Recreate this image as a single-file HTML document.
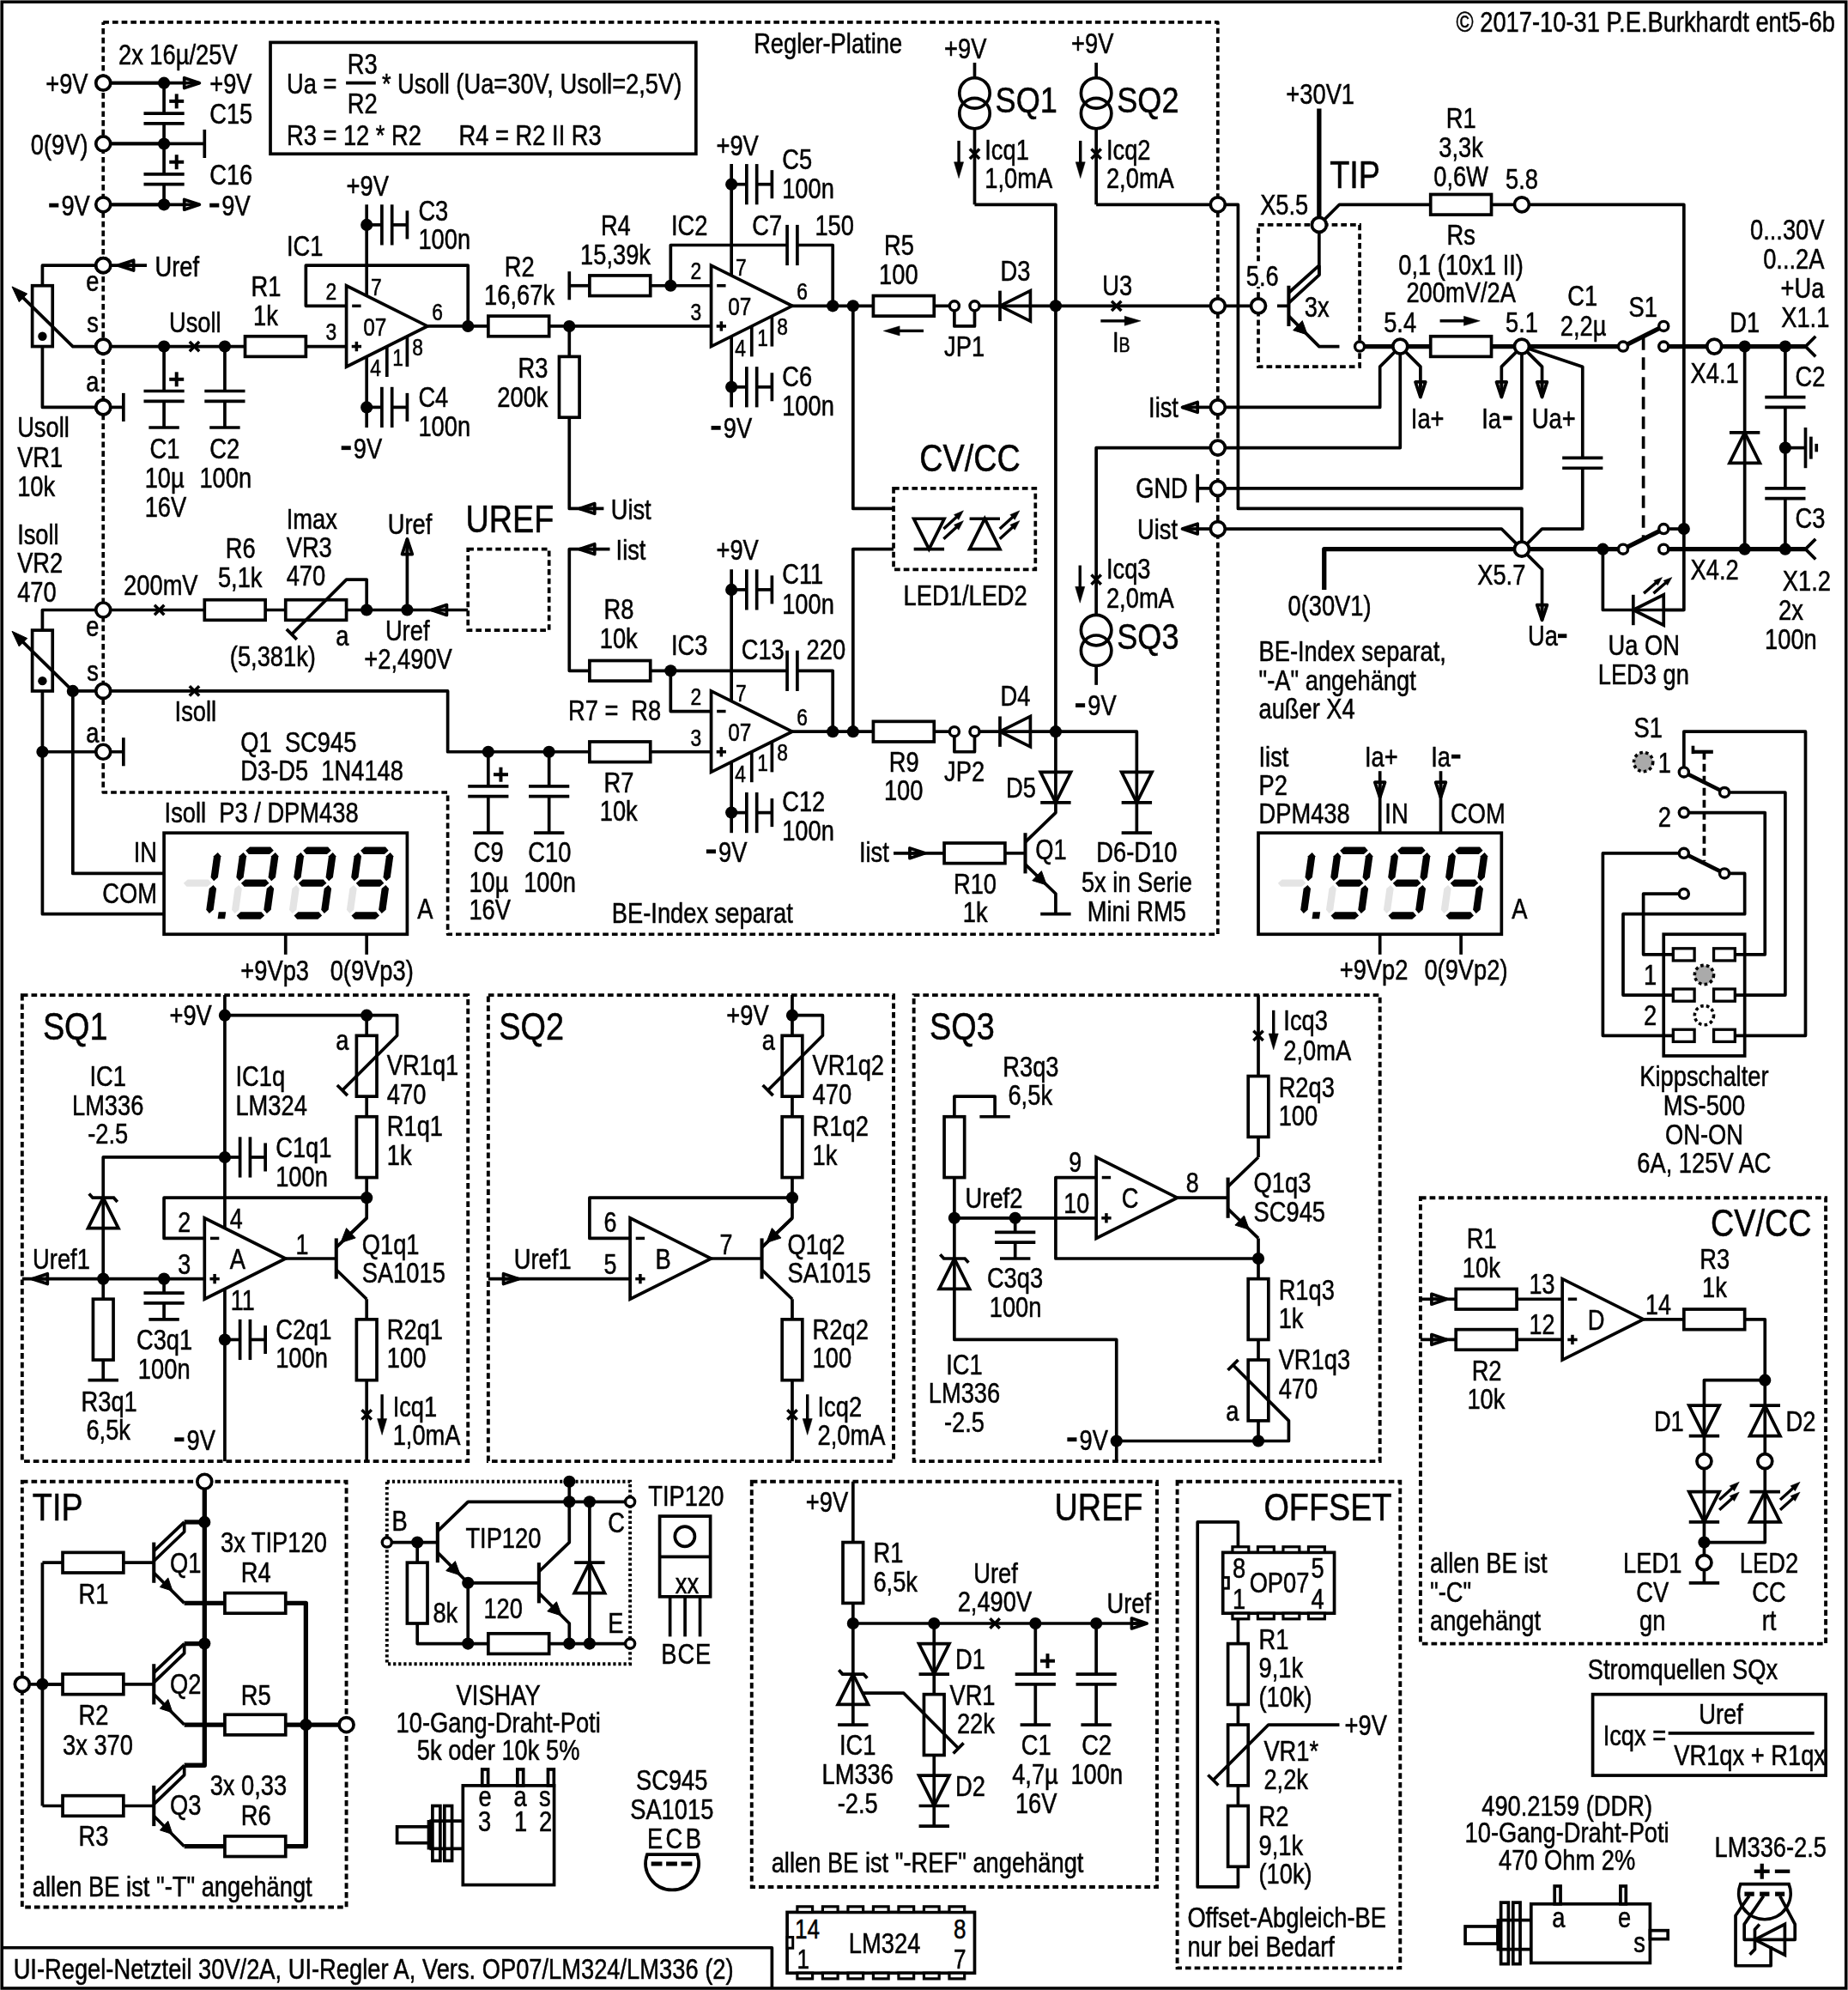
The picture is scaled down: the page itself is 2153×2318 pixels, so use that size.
<!DOCTYPE html>
<html><head><meta charset="utf-8"><title>UI-Regel-Netzteil 30V/2A</title>
<style>html,body{margin:0;padding:0;background:#fff}svg{display:block}text{font-family:"Liberation Sans",sans-serif;fill:#000;stroke:#000;stroke-width:0.55px}</style>
</head><body>
<svg width="2153" height="2318" viewBox="0 0 2153 2318">
<rect x="0" y="0" width="2153" height="2318" fill="#fff"/>
<g style="opacity:0.999">
<polyline points="120.25,25.81 1418.8,25.81 1418.8,1088.26 521.62,1088.26 521.62,922.99 120.25,922.99 120.25,25.81" fill="none" stroke="#000" stroke-width="3.7" stroke-linecap="butt" stroke-linejoin="round" stroke-dasharray="6.7 4.0"/>
<polyline points="120.25,96.64 191.08,96.64" fill="none" stroke="#000" stroke-width="3.7" stroke-linecap="butt" stroke-linejoin="round"/>
<polyline points="120.25,167.47 191.08,167.47" fill="none" stroke="#000" stroke-width="3.7" stroke-linecap="butt" stroke-linejoin="round"/>
<polyline points="120.25,238.3 191.08,238.3" fill="none" stroke="#000" stroke-width="3.7" stroke-linecap="butt" stroke-linejoin="round"/>
<polyline points="120.25,96.64 214.69,96.64" fill="none" stroke="#000" stroke-width="3.7" stroke-linecap="butt" stroke-linejoin="round"/>
<polyline points="120.25,238.3 214.69,238.3" fill="none" stroke="#000" stroke-width="3.7" stroke-linecap="butt" stroke-linejoin="round"/>
<polyline points="120.25,167.47 238.3,167.47" fill="none" stroke="#000" stroke-width="3.7" stroke-linecap="butt" stroke-linejoin="round"/>
<polyline points="238.3,150.94 238.3,184.0" fill="none" stroke="#000" stroke-width="3.7" stroke-linecap="butt" stroke-linejoin="round"/>
<polygon points="232.4,96.64 214.69,90.74 214.69,102.54" fill="none" stroke="#000" stroke-width="3.7" stroke-linejoin="round"/>
<polyline points="214.69,96.64 232.4,96.64" fill="none" stroke="#000" stroke-width="3.7" stroke-linecap="butt" stroke-linejoin="round"/>
<polygon points="232.4,238.3 214.69,232.4 214.69,244.2" fill="none" stroke="#000" stroke-width="3.7" stroke-linejoin="round"/>
<polyline points="214.69,238.3 232.4,238.3" fill="none" stroke="#000" stroke-width="3.7" stroke-linecap="butt" stroke-linejoin="round"/>
<polyline points="191.08,96.64 191.08,132.05" fill="none" stroke="#000" stroke-width="3.7" stroke-linecap="butt" stroke-linejoin="round"/>
<polyline points="191.08,143.86 191.08,202.88" fill="none" stroke="#000" stroke-width="3.7" stroke-linecap="butt" stroke-linejoin="round"/>
<polyline points="191.08,214.69 191.08,238.3" fill="none" stroke="#000" stroke-width="3.7" stroke-linecap="butt" stroke-linejoin="round"/>
<polyline points="167.47,132.05 214.69,132.05" fill="none" stroke="#000" stroke-width="3.7" stroke-linecap="butt" stroke-linejoin="round"/>
<polyline points="167.47,143.86 214.69,143.86" fill="none" stroke="#000" stroke-width="3.7" stroke-linecap="butt" stroke-linejoin="round"/>
<polyline points="167.47,202.88 214.69,202.88" fill="none" stroke="#000" stroke-width="3.7" stroke-linecap="butt" stroke-linejoin="round"/>
<polyline points="167.47,214.69 214.69,214.69" fill="none" stroke="#000" stroke-width="3.7" stroke-linecap="butt" stroke-linejoin="round"/>
<polyline points="197.22,117.89 214.22,117.89" fill="none" stroke="#000" stroke-width="4" stroke-linecap="butt" stroke-linejoin="round"/>
<polyline points="205.72,109.39 205.72,126.39" fill="none" stroke="#000" stroke-width="4" stroke-linecap="butt" stroke-linejoin="round"/>
<polyline points="197.22,188.72 214.22,188.72" fill="none" stroke="#000" stroke-width="4" stroke-linecap="butt" stroke-linejoin="round"/>
<polyline points="205.72,180.22 205.72,197.22" fill="none" stroke="#000" stroke-width="4" stroke-linecap="butt" stroke-linejoin="round"/>
<circle cx="191.08" cy="96.64" r="7.08" fill="#000"/>
<circle cx="191.08" cy="167.47" r="7.08" fill="#000"/>
<circle cx="191.08" cy="238.3" r="7.08" fill="#000"/>
<text xml:space="preserve" transform="translate(102.54,109.26) scale(0.815,1)" font-size="33.5" text-anchor="end">+9V</text>
<text xml:space="preserve" transform="translate(102.54,180.09) scale(0.815,1)" font-size="33.5" text-anchor="end">0(9V)</text>
<polyline points="57.21,239.12 68.31,239.12" fill="none" stroke="#000" stroke-width="4.8" stroke-linecap="butt" stroke-linejoin="round"/>
<text transform="translate(71.38,250.92) scale(0.815,1)" font-size="33.5">9V</text>
<text xml:space="preserve" transform="translate(137.96,75.03) scale(0.815,1)" font-size="33.5">2x 16µ/25V</text>
<text xml:space="preserve" transform="translate(244.2,109.26) scale(0.815,1)" font-size="33.5">+9V</text>
<text xml:space="preserve" transform="translate(244.2,144.21) scale(0.815,1)" font-size="33.5">C15</text>
<text xml:space="preserve" transform="translate(244.2,215.04) scale(0.815,1)" font-size="33.5">C16</text>
<polyline points="244.2,239.12 255.3,239.12" fill="none" stroke="#000" stroke-width="4.8" stroke-linecap="butt" stroke-linejoin="round"/>
<text transform="translate(258.37,250.92) scale(0.815,1)" font-size="33.5">9V</text>
<rect x="315.03" y="49.42" width="495.81" height="129.85" fill="none" stroke="#000" stroke-width="3.7"/>
<text xml:space="preserve" transform="translate(333.92,109.26) scale(0.815,1)" font-size="33.5">Ua =</text>
<text xml:space="preserve" transform="translate(404.75,85.65) scale(0.815,1)" font-size="33.5">R3</text>
<text xml:space="preserve" transform="translate(404.75,132.4) scale(0.815,1)" font-size="33.5">R2</text>
<polyline points="403.1,96.64 437.8,96.64" fill="none" stroke="#000" stroke-width="3.7" stroke-linecap="butt" stroke-linejoin="round"/>
<text xml:space="preserve" transform="translate(444.89,109.26) scale(0.815,1)" font-size="33.5">* Usoll (Ua=30V, Usoll=2,5V)</text>
<text xml:space="preserve" transform="translate(333.92,168.76) scale(0.815,1)" font-size="33.5">R3 = 12 * R2</text>
<text xml:space="preserve" transform="translate(534.61,168.76) scale(0.815,1)" font-size="33.5">R4 = R2 II R3</text>
<polyline points="120.25,309.13 49.42,309.13 49.42,332.74" fill="none" stroke="#000" stroke-width="3.7" stroke-linecap="butt" stroke-linejoin="round"/>
<polyline points="49.42,403.57 49.42,474.4 120.25,474.4" fill="none" stroke="#000" stroke-width="3.7" stroke-linecap="butt" stroke-linejoin="round"/>
<rect x="37.62" y="332.74" width="23.61" height="70.83" fill="#fff" stroke="#000" stroke-width="3.7"/>
<circle cx="49.42" cy="391.76" r="5.19" fill="#000"/>
<polyline points="120.25,403.57 84.83,403.57 19.91,339.82" fill="none" stroke="#000" stroke-width="3.7" stroke-linecap="butt" stroke-linejoin="round"/>
<polygon points="14.0,333.92 31.71,342.18 22.27,351.63" fill="#000" stroke="#000" stroke-width="1" stroke-linejoin="miter"/>
<text xml:space="preserve" transform="translate(100.18,339.46) scale(0.815,1)" font-size="33.5">e</text>
<text xml:space="preserve" transform="translate(101.36,387.15) scale(0.815,1)" font-size="33.5">s</text>
<text xml:space="preserve" transform="translate(100.18,456.33) scale(0.815,1)" font-size="33.5">a</text>
<polyline points="120.25,309.13 171.01,309.13" fill="none" stroke="#000" stroke-width="3.7" stroke-linecap="butt" stroke-linejoin="round"/>
<polygon points="137.96,309.13 155.66,303.23 155.66,315.03" fill="none" stroke="#000" stroke-width="3.7" stroke-linejoin="round"/>
<polyline points="155.66,309.13 137.96,309.13" fill="none" stroke="#000" stroke-width="3.7" stroke-linecap="butt" stroke-linejoin="round"/>
<text xml:space="preserve" transform="translate(180.46,322.23) scale(0.815,1)" font-size="33.5">Uref</text>
<polyline points="120.25,474.4 143.86,474.4" fill="none" stroke="#000" stroke-width="3.7" stroke-linecap="butt" stroke-linejoin="round"/>
<polyline points="143.86,457.87 143.86,490.93" fill="none" stroke="#000" stroke-width="3.7" stroke-linecap="butt" stroke-linejoin="round"/>
<text xml:space="preserve" transform="translate(20.14,509.45) scale(0.815,1)" font-size="33.5">Usoll</text>
<text xml:space="preserve" transform="translate(20.14,543.69) scale(0.815,1)" font-size="33.5">VR1</text>
<text xml:space="preserve" transform="translate(20.14,577.92) scale(0.815,1)" font-size="33.5">10k</text>
<polyline points="120.25,403.57 285.52,403.57" fill="none" stroke="#000" stroke-width="3.7" stroke-linecap="butt" stroke-linejoin="round"/>
<circle cx="191.08" cy="403.57" r="7.08" fill="#000"/>
<circle cx="261.91" cy="403.57" r="7.08" fill="#000"/>
<polyline points="220.83,397.9 232.16,409.24" fill="none" stroke="#000" stroke-width="3.5" stroke-linecap="butt" stroke-linejoin="round"/>
<polyline points="220.83,409.24 232.16,397.9" fill="none" stroke="#000" stroke-width="3.5" stroke-linecap="butt" stroke-linejoin="round"/>
<text xml:space="preserve" transform="translate(196.98,387.15) scale(0.815,1)" font-size="33.5">Usoll</text>
<polyline points="191.08,403.57 191.08,455.51" fill="none" stroke="#000" stroke-width="3.7" stroke-linecap="butt" stroke-linejoin="round"/>
<polyline points="167.47,455.51 214.69,455.51" fill="none" stroke="#000" stroke-width="3.7" stroke-linecap="butt" stroke-linejoin="round"/>
<polyline points="167.47,467.32 214.69,467.32" fill="none" stroke="#000" stroke-width="3.7" stroke-linecap="butt" stroke-linejoin="round"/>
<polyline points="191.08,467.32 191.08,498.01" fill="none" stroke="#000" stroke-width="3.7" stroke-linecap="butt" stroke-linejoin="round"/>
<polyline points="173.37,498.01 208.79,498.01" fill="none" stroke="#000" stroke-width="3.7" stroke-linecap="butt" stroke-linejoin="round"/>
<polyline points="197.22,441.82 214.22,441.82" fill="none" stroke="#000" stroke-width="4" stroke-linecap="butt" stroke-linejoin="round"/>
<polyline points="205.72,433.32 205.72,450.32" fill="none" stroke="#000" stroke-width="4" stroke-linecap="butt" stroke-linejoin="round"/>
<polyline points="261.91,403.57 261.91,455.51" fill="none" stroke="#000" stroke-width="3.7" stroke-linecap="butt" stroke-linejoin="round"/>
<polyline points="238.3,455.51 285.52,455.51" fill="none" stroke="#000" stroke-width="3.7" stroke-linecap="butt" stroke-linejoin="round"/>
<polyline points="238.3,467.32 285.52,467.32" fill="none" stroke="#000" stroke-width="3.7" stroke-linecap="butt" stroke-linejoin="round"/>
<polyline points="261.91,467.32 261.91,498.01" fill="none" stroke="#000" stroke-width="3.7" stroke-linecap="butt" stroke-linejoin="round"/>
<polyline points="244.2,498.01 279.62,498.01" fill="none" stroke="#000" stroke-width="3.7" stroke-linecap="butt" stroke-linejoin="round"/>
<text xml:space="preserve" transform="translate(174.55,533.54) scale(0.815,1)" font-size="33.5">C1</text>
<text xml:space="preserve" transform="translate(168.65,568.48) scale(0.815,1)" font-size="33.5">10µ</text>
<text xml:space="preserve" transform="translate(168.65,601.53) scale(0.815,1)" font-size="33.5">16V</text>
<text xml:space="preserve" transform="translate(244.2,533.54) scale(0.815,1)" font-size="33.5">C2</text>
<text xml:space="preserve" transform="translate(232.4,568.48) scale(0.815,1)" font-size="33.5">100n</text>
<rect x="285.52" y="391.76" width="70.83" height="23.61" fill="#fff" stroke="#000" stroke-width="3.7"/>
<text xml:space="preserve" transform="translate(292.6,345.36) scale(0.815,1)" font-size="33.5">R1</text>
<text xml:space="preserve" transform="translate(294.96,379.13) scale(0.815,1)" font-size="33.5">1k</text>
<polyline points="356.35,403.57 403.57,403.57" fill="none" stroke="#000" stroke-width="3.7" stroke-linecap="butt" stroke-linejoin="round"/>
<polyline points="427.18,238.3 427.18,346.91" fill="none" stroke="#000" stroke-width="3.7" stroke-linecap="butt" stroke-linejoin="round"/>
<circle cx="427.18" cy="261.91" r="7.08" fill="#000"/>
<polyline points="427.18,261.91 444.89,261.91" fill="none" stroke="#000" stroke-width="3.7" stroke-linecap="butt" stroke-linejoin="round"/>
<polyline points="444.89,238.3 444.89,285.52" fill="none" stroke="#000" stroke-width="3.7" stroke-linecap="butt" stroke-linejoin="round"/>
<polyline points="456.69,238.3 456.69,285.52" fill="none" stroke="#000" stroke-width="3.7" stroke-linecap="butt" stroke-linejoin="round"/>
<polyline points="456.69,261.91 474.4,261.91" fill="none" stroke="#000" stroke-width="3.7" stroke-linecap="butt" stroke-linejoin="round"/>
<polyline points="474.4,245.38 474.4,278.44" fill="none" stroke="#000" stroke-width="3.7" stroke-linecap="butt" stroke-linejoin="round"/>
<text xml:space="preserve" transform="translate(403.57,227.79) scale(0.815,1)" font-size="33.5">+9V</text>
<text xml:space="preserve" transform="translate(487.39,256.83) scale(0.815,1)" font-size="33.5">C3</text>
<text xml:space="preserve" transform="translate(487.39,290.35) scale(0.815,1)" font-size="33.5">100n</text>
<polyline points="427.18,413.01 427.18,498.01" fill="none" stroke="#000" stroke-width="3.7" stroke-linecap="butt" stroke-linejoin="round"/>
<circle cx="427.18" cy="474.4" r="7.08" fill="#000"/>
<polyline points="427.18,474.4 444.89,474.4" fill="none" stroke="#000" stroke-width="3.7" stroke-linecap="butt" stroke-linejoin="round"/>
<polyline points="444.89,450.79 444.89,498.01" fill="none" stroke="#000" stroke-width="3.7" stroke-linecap="butt" stroke-linejoin="round"/>
<polyline points="456.69,450.79 456.69,498.01" fill="none" stroke="#000" stroke-width="3.7" stroke-linecap="butt" stroke-linejoin="round"/>
<polyline points="456.69,474.4 474.4,474.4" fill="none" stroke="#000" stroke-width="3.7" stroke-linecap="butt" stroke-linejoin="round"/>
<polyline points="474.4,457.87 474.4,490.93" fill="none" stroke="#000" stroke-width="3.7" stroke-linecap="butt" stroke-linejoin="round"/>
<polyline points="397.67,521.73 408.76,521.73" fill="none" stroke="#000" stroke-width="4.8" stroke-linecap="butt" stroke-linejoin="round"/>
<text transform="translate(411.83,533.54) scale(0.815,1)" font-size="33.5">9V</text>
<text xml:space="preserve" transform="translate(487.39,474.04) scale(0.815,1)" font-size="33.5">C4</text>
<text xml:space="preserve" transform="translate(487.39,508.27) scale(0.815,1)" font-size="33.5">100n</text>
<polygon points="403.57,332.74 403.57,427.18 498.01,379.96" fill="#fff" stroke="#000" stroke-width="3.7" stroke-linejoin="miter"/>
<polyline points="410.18,356.35 420.57,356.35" fill="none" stroke="#000" stroke-width="3.5" stroke-linecap="butt" stroke-linejoin="round"/>
<polyline points="409.71,403.57 421.04,403.57" fill="none" stroke="#000" stroke-width="3.5" stroke-linecap="butt" stroke-linejoin="round"/>
<polyline points="415.38,397.9 415.38,409.24" fill="none" stroke="#000" stroke-width="3.5" stroke-linecap="butt" stroke-linejoin="round"/>
<text xml:space="preserve" transform="translate(379.49,348.91) scale(0.815,1)" font-size="28">2</text>
<text xml:space="preserve" transform="translate(379.49,396.36) scale(0.815,1)" font-size="28">3</text>
<text xml:space="preserve" transform="translate(431.9,344.42) scale(0.815,1)" font-size="28">7</text>
<text xml:space="preserve" transform="translate(503.2,372.52) scale(0.815,1)" font-size="28">6</text>
<text xml:space="preserve" transform="translate(423.17,390.93) scale(0.815,1)" font-size="30">07</text>
<text xml:space="preserve" transform="translate(480.3,413.83) scale(0.815,1)" font-size="28">8</text>
<text xml:space="preserve" transform="translate(457.16,426.11) scale(0.815,1)" font-size="28">1</text>
<text xml:space="preserve" transform="translate(431.19,438.39) scale(0.815,1)" font-size="28">4</text>
<polyline points="450.79,403.57 450.79,438.98" fill="none" stroke="#000" stroke-width="3.7" stroke-linecap="butt" stroke-linejoin="round"/>
<polyline points="474.4,391.76 474.4,427.18" fill="none" stroke="#000" stroke-width="3.7" stroke-linecap="butt" stroke-linejoin="round"/>
<text xml:space="preserve" transform="translate(333.92,298.14) scale(0.815,1)" font-size="33.5">IC1</text>
<polyline points="498.01,379.96 568.84,379.96" fill="none" stroke="#000" stroke-width="3.7" stroke-linecap="butt" stroke-linejoin="round"/>
<circle cx="545.23" cy="379.96" r="7.08" fill="#000"/>
<polyline points="545.23,379.96 545.23,309.13 356.35,309.13 356.35,356.35 403.57,356.35" fill="none" stroke="#000" stroke-width="3.7" stroke-linecap="butt" stroke-linejoin="round"/>
<rect x="568.84" y="368.15" width="70.83" height="23.61" fill="#fff" stroke="#000" stroke-width="3.7"/>
<text xml:space="preserve" transform="translate(587.73,321.75) scale(0.815,1)" font-size="33.5">R2</text>
<text xml:space="preserve" transform="translate(564.12,355.28) scale(0.815,1)" font-size="33.5">16,67k</text>
<polyline points="639.67,379.96 828.55,379.96" fill="none" stroke="#000" stroke-width="3.7" stroke-linecap="butt" stroke-linejoin="round"/>
<circle cx="663.28" cy="379.96" r="7.08" fill="#000"/>
<polyline points="663.28,379.96 663.28,415.38" fill="none" stroke="#000" stroke-width="3.7" stroke-linecap="butt" stroke-linejoin="round"/>
<rect x="651.48" y="415.38" width="23.61" height="70.83" fill="#fff" stroke="#000" stroke-width="3.7"/>
<polyline points="663.28,486.2 663.28,592.45 703.42,592.45" fill="none" stroke="#000" stroke-width="3.7" stroke-linecap="butt" stroke-linejoin="round"/>
<polygon points="675.09,592.45 692.79,586.55 692.79,598.35" fill="none" stroke="#000" stroke-width="3.7" stroke-linejoin="round"/>
<polyline points="692.79,592.45 675.09,592.45" fill="none" stroke="#000" stroke-width="3.7" stroke-linecap="butt" stroke-linejoin="round"/>
<text xml:space="preserve" transform="translate(638.49,440.04) scale(0.815,1)" font-size="33.5" text-anchor="end">R3</text>
<text xml:space="preserve" transform="translate(638.49,473.57) scale(0.815,1)" font-size="33.5" text-anchor="end">200k</text>
<text xml:space="preserve" transform="translate(711.68,605.07) scale(0.815,1)" font-size="33.5">Uist</text>
<polyline points="663.28,316.21 663.28,349.27" fill="none" stroke="#000" stroke-width="3.7" stroke-linecap="butt" stroke-linejoin="round"/>
<polyline points="663.28,332.74 686.89,332.74" fill="none" stroke="#000" stroke-width="3.7" stroke-linecap="butt" stroke-linejoin="round"/>
<rect x="686.89" y="320.94" width="70.83" height="23.61" fill="#fff" stroke="#000" stroke-width="3.7"/>
<polyline points="757.72,332.74 828.55,332.74" fill="none" stroke="#000" stroke-width="3.7" stroke-linecap="butt" stroke-linejoin="round"/>
<circle cx="781.33" cy="332.74" r="7.08" fill="#000"/>
<text xml:space="preserve" transform="translate(699.88,273.83) scale(0.815,1)" font-size="33.5">R4</text>
<text xml:space="preserve" transform="translate(676.03,308.06) scale(0.815,1)" font-size="33.5">15,39k</text>
<text xml:space="preserve" transform="translate(878.13,62.28) scale(0.815,1)" font-size="33.5">Regler-Platine</text>
<polyline points="1135.48,73.03 1135.48,90.74" fill="none" stroke="#000" stroke-width="3.7" stroke-linecap="butt" stroke-linejoin="round"/>
<polyline points="1135.48,149.76 1135.48,238.3" fill="none" stroke="#000" stroke-width="3.7" stroke-linecap="butt" stroke-linejoin="round"/>
<circle cx="1135.48" cy="108.45" r="17.71" fill="none" stroke="#000" stroke-width="3.7"/>
<circle cx="1135.48" cy="132.05" r="17.71" fill="none" stroke="#000" stroke-width="3.7"/>
<text xml:space="preserve" transform="translate(1159.56,130.7) scale(0.86,1)" font-size="42">SQ1</text>
<text xml:space="preserve" transform="translate(1100.07,68.18) scale(0.815,1)" font-size="33.5">+9V</text>
<polyline points="1117.06,163.93 1117.06,192.5" fill="none" stroke="#000" stroke-width="3.4" stroke-linecap="butt" stroke-linejoin="round"/>
<polygon points="1117.06,207.61 1111.52,188.72 1122.61,188.72" fill="#000" stroke="#000" stroke-width="0.5" stroke-linejoin="miter"/>
<polyline points="1129.81,173.61 1141.15,184.94" fill="none" stroke="#000" stroke-width="3.5" stroke-linecap="butt" stroke-linejoin="round"/>
<polyline points="1129.81,184.94 1141.15,173.61" fill="none" stroke="#000" stroke-width="3.5" stroke-linecap="butt" stroke-linejoin="round"/>
<text xml:space="preserve" transform="translate(1147.29,185.76) scale(0.815,1)" font-size="33.5">Icq1</text>
<text xml:space="preserve" transform="translate(1147.29,218.81) scale(0.815,1)" font-size="33.5">1,0mA</text>
<polyline points="1277.14,73.03 1277.14,90.74" fill="none" stroke="#000" stroke-width="3.7" stroke-linecap="butt" stroke-linejoin="round"/>
<polyline points="1277.14,149.76 1277.14,238.3" fill="none" stroke="#000" stroke-width="3.7" stroke-linecap="butt" stroke-linejoin="round"/>
<circle cx="1277.14" cy="108.45" r="17.71" fill="none" stroke="#000" stroke-width="3.7"/>
<circle cx="1277.14" cy="132.05" r="17.71" fill="none" stroke="#000" stroke-width="3.7"/>
<text xml:space="preserve" transform="translate(1301.22,130.7) scale(0.86,1)" font-size="42">SQ2</text>
<text xml:space="preserve" transform="translate(1248.1,62.28) scale(0.815,1)" font-size="33.5">+9V</text>
<polyline points="1258.72,163.93 1258.72,192.5" fill="none" stroke="#000" stroke-width="3.4" stroke-linecap="butt" stroke-linejoin="round"/>
<polygon points="1258.72,207.61 1253.18,188.72 1264.27,188.72" fill="#000" stroke="#000" stroke-width="0.5" stroke-linejoin="miter"/>
<polyline points="1271.47,173.61 1282.81,184.94" fill="none" stroke="#000" stroke-width="3.5" stroke-linecap="butt" stroke-linejoin="round"/>
<polyline points="1271.47,184.94 1282.81,173.61" fill="none" stroke="#000" stroke-width="3.5" stroke-linecap="butt" stroke-linejoin="round"/>
<text xml:space="preserve" transform="translate(1288.94,185.76) scale(0.815,1)" font-size="33.5">Icq2</text>
<text xml:space="preserve" transform="translate(1288.94,218.81) scale(0.815,1)" font-size="33.5">2,0mA</text>
<polyline points="1135.48,238.3 1229.92,238.3 1229.92,852.16" fill="none" stroke="#000" stroke-width="3.7" stroke-linecap="butt" stroke-linejoin="round"/>
<polyline points="1277.14,238.3 1418.8,238.3 1442.41,238.3 1442.41,592.45 1772.95,592.45 1772.95,639.67" fill="none" stroke="#000" stroke-width="3.7" stroke-linecap="butt" stroke-linejoin="round"/>
<polyline points="852.16,191.08 852.16,323.3" fill="none" stroke="#000" stroke-width="3.7" stroke-linecap="butt" stroke-linejoin="round"/>
<circle cx="852.16" cy="214.69" r="7.08" fill="#000"/>
<polyline points="852.16,214.69 869.87,214.69" fill="none" stroke="#000" stroke-width="3.7" stroke-linecap="butt" stroke-linejoin="round"/>
<polyline points="869.87,191.08 869.87,238.3" fill="none" stroke="#000" stroke-width="3.7" stroke-linecap="butt" stroke-linejoin="round"/>
<polyline points="881.67,191.08 881.67,238.3" fill="none" stroke="#000" stroke-width="3.7" stroke-linecap="butt" stroke-linejoin="round"/>
<polyline points="881.67,214.69 899.38,214.69" fill="none" stroke="#000" stroke-width="3.7" stroke-linecap="butt" stroke-linejoin="round"/>
<polyline points="899.38,198.16 899.38,231.22" fill="none" stroke="#000" stroke-width="3.7" stroke-linecap="butt" stroke-linejoin="round"/>
<text xml:space="preserve" transform="translate(834.45,181.04) scale(0.815,1)" font-size="33.5">+9V</text>
<text xml:space="preserve" transform="translate(911.19,196.62) scale(0.815,1)" font-size="33.5">C5</text>
<text xml:space="preserve" transform="translate(911.19,230.62) scale(0.815,1)" font-size="33.5">100n</text>
<polyline points="852.16,389.4 852.16,474.4" fill="none" stroke="#000" stroke-width="3.7" stroke-linecap="butt" stroke-linejoin="round"/>
<circle cx="852.16" cy="450.79" r="7.08" fill="#000"/>
<polyline points="852.16,450.79 869.87,450.79" fill="none" stroke="#000" stroke-width="3.7" stroke-linecap="butt" stroke-linejoin="round"/>
<polyline points="869.87,427.18 869.87,474.4" fill="none" stroke="#000" stroke-width="3.7" stroke-linecap="butt" stroke-linejoin="round"/>
<polyline points="881.67,427.18 881.67,474.4" fill="none" stroke="#000" stroke-width="3.7" stroke-linecap="butt" stroke-linejoin="round"/>
<polyline points="881.67,450.79 899.38,450.79" fill="none" stroke="#000" stroke-width="3.7" stroke-linecap="butt" stroke-linejoin="round"/>
<polyline points="899.38,434.26 899.38,467.32" fill="none" stroke="#000" stroke-width="3.7" stroke-linecap="butt" stroke-linejoin="round"/>
<polyline points="828.55,498.36 839.65,498.36" fill="none" stroke="#000" stroke-width="4.8" stroke-linecap="butt" stroke-linejoin="round"/>
<text transform="translate(842.72,510.16) scale(0.815,1)" font-size="33.5">9V</text>
<text xml:space="preserve" transform="translate(911.19,449.72) scale(0.815,1)" font-size="33.5">C6</text>
<text xml:space="preserve" transform="translate(911.19,483.72) scale(0.815,1)" font-size="33.5">100n</text>
<polygon points="828.55,309.13 828.55,403.57 922.99,356.35" fill="#fff" stroke="#000" stroke-width="3.7" stroke-linejoin="miter"/>
<polyline points="835.16,332.74 845.55,332.74" fill="none" stroke="#000" stroke-width="3.5" stroke-linecap="butt" stroke-linejoin="round"/>
<polyline points="834.69,379.96 846.02,379.96" fill="none" stroke="#000" stroke-width="3.5" stroke-linecap="butt" stroke-linejoin="round"/>
<polyline points="840.36,374.29 840.36,385.63" fill="none" stroke="#000" stroke-width="3.5" stroke-linecap="butt" stroke-linejoin="round"/>
<text xml:space="preserve" transform="translate(804.47,325.3) scale(0.815,1)" font-size="28">2</text>
<text xml:space="preserve" transform="translate(804.47,372.75) scale(0.815,1)" font-size="28">3</text>
<text xml:space="preserve" transform="translate(856.88,320.81) scale(0.815,1)" font-size="28">7</text>
<text xml:space="preserve" transform="translate(928.18,348.91) scale(0.815,1)" font-size="28">6</text>
<text xml:space="preserve" transform="translate(848.15,367.32) scale(0.815,1)" font-size="30">07</text>
<text xml:space="preserve" transform="translate(905.28,390.22) scale(0.815,1)" font-size="28">8</text>
<text xml:space="preserve" transform="translate(882.14,402.5) scale(0.815,1)" font-size="28">1</text>
<text xml:space="preserve" transform="translate(856.17,414.78) scale(0.815,1)" font-size="28">4</text>
<polyline points="875.77,379.96 875.77,415.38" fill="none" stroke="#000" stroke-width="3.7" stroke-linecap="butt" stroke-linejoin="round"/>
<polyline points="899.38,368.15 899.38,403.57" fill="none" stroke="#000" stroke-width="3.7" stroke-linecap="butt" stroke-linejoin="round"/>
<text xml:space="preserve" transform="translate(782.04,273.83) scale(0.815,1)" font-size="33.5">IC2</text>
<polyline points="781.33,332.74 781.33,285.52 917.09,285.52" fill="none" stroke="#000" stroke-width="3.7" stroke-linecap="butt" stroke-linejoin="round"/>
<polyline points="928.89,285.52 970.21,285.52 970.21,356.35" fill="none" stroke="#000" stroke-width="3.7" stroke-linecap="butt" stroke-linejoin="round"/>
<polyline points="917.09,261.91 917.09,309.13" fill="none" stroke="#000" stroke-width="3.7" stroke-linecap="butt" stroke-linejoin="round"/>
<polyline points="928.89,261.91 928.89,309.13" fill="none" stroke="#000" stroke-width="3.7" stroke-linecap="butt" stroke-linejoin="round"/>
<text xml:space="preserve" transform="translate(876.24,273.83) scale(0.815,1)" font-size="33.5">C7</text>
<text xml:space="preserve" transform="translate(949.43,273.83) scale(0.815,1)" font-size="33.5">150</text>
<polyline points="922.99,356.35 1017.43,356.35" fill="none" stroke="#000" stroke-width="3.7" stroke-linecap="butt" stroke-linejoin="round"/>
<circle cx="970.21" cy="356.35" r="7.08" fill="#000"/>
<circle cx="993.82" cy="356.35" r="7.08" fill="#000"/>
<rect x="1017.43" y="344.54" width="70.83" height="23.61" fill="#fff" stroke="#000" stroke-width="3.7"/>
<text xml:space="preserve" transform="translate(1029.94,296.73) scale(0.815,1)" font-size="33.5">R5</text>
<text xml:space="preserve" transform="translate(1024.04,330.96) scale(0.815,1)" font-size="33.5">100</text>
<polyline points="1075.98,385.39 1044.35,385.39" fill="none" stroke="#000" stroke-width="3.4" stroke-linecap="butt" stroke-linejoin="round"/>
<polygon points="1029.24,385.39 1048.12,379.84 1048.12,390.94" fill="#000" stroke="#000" stroke-width="0.5" stroke-linejoin="miter"/>
<polyline points="1088.26,356.35 1111.87,356.35" fill="none" stroke="#000" stroke-width="3.7" stroke-linecap="butt" stroke-linejoin="round"/>
<polyline points="1111.87,356.35 1111.87,379.96 1135.48,379.96 1135.48,356.35" fill="none" stroke="#000" stroke-width="3.7" stroke-linecap="butt" stroke-linejoin="round"/>
<text xml:space="preserve" transform="translate(1100.07,415.49) scale(0.815,1)" font-size="33.5">JP1</text>
<polyline points="1141.62,356.35 1418.8,356.35" fill="none" stroke="#000" stroke-width="3.7" stroke-linecap="butt" stroke-linejoin="round"/>
<polygon points="1164.99,356.35 1200.41,338.64 1200.41,374.06" fill="none" stroke="#000" stroke-width="3.7" stroke-linejoin="miter"/>
<polyline points="1164.99,338.64 1164.99,374.06" fill="none" stroke="#000" stroke-width="3.7" stroke-linecap="butt" stroke-linejoin="round"/>
<text xml:space="preserve" transform="translate(1165.46,327.18) scale(0.815,1)" font-size="33.5">D3</text>
<circle cx="1229.92" cy="356.35" r="7.08" fill="#000"/>
<polyline points="1295.08,350.68 1306.42,362.02" fill="none" stroke="#000" stroke-width="3.5" stroke-linecap="butt" stroke-linejoin="round"/>
<polyline points="1295.08,362.02 1306.42,350.68" fill="none" stroke="#000" stroke-width="3.5" stroke-linecap="butt" stroke-linejoin="round"/>
<text xml:space="preserve" transform="translate(1284.22,343.95) scale(0.815,1)" font-size="33.5">U3</text>
<polyline points="1282.33,373.82 1313.97,373.82" fill="none" stroke="#000" stroke-width="3.4" stroke-linecap="butt" stroke-linejoin="round"/>
<polygon points="1329.08,373.82 1310.19,379.37 1310.19,368.27" fill="#000" stroke="#000" stroke-width="0.5" stroke-linejoin="miter"/>
<text xml:space="preserve" transform="translate(1296.03,409.82) scale(0.815,1)" font-size="33.5">I</text>
<text xml:space="preserve" transform="translate(1303.58,409.82) scale(0.815,1)" font-size="24">B</text>
<polyline points="993.82,356.35 993.82,592.45 1041.04,592.45" fill="none" stroke="#000" stroke-width="3.7" stroke-linecap="butt" stroke-linejoin="round"/>
<polyline points="1041.04,639.67 993.82,639.67 993.82,852.16" fill="none" stroke="#000" stroke-width="3.7" stroke-linecap="butt" stroke-linejoin="round"/>
<rect x="1041.04" y="568.84" width="165.27" height="94.44" fill="none" stroke="#000" stroke-width="3.7" stroke-dasharray="6.7 4.0"/>
<text xml:space="preserve" transform="translate(1071.26,548.6) scale(0.86,1)" font-size="44">CV/CC</text>
<text xml:space="preserve" transform="translate(1052.61,704.94) scale(0.815,1)" font-size="33.5">LED1/LED2</text>
<polygon points="1064.65,604.25 1100.07,604.25 1082.36,639.67" fill="#fff" stroke="#000" stroke-width="3.7" stroke-linejoin="miter"/>
<polyline points="1064.65,639.67 1100.07,639.67" fill="none" stroke="#000" stroke-width="3.7" stroke-linecap="butt" stroke-linejoin="round"/>
<polygon points="1129.58,639.67 1164.99,639.67 1147.29,604.25" fill="#fff" stroke="#000" stroke-width="3.7" stroke-linejoin="miter"/>
<polyline points="1129.58,604.25 1164.99,604.25" fill="none" stroke="#000" stroke-width="3.7" stroke-linecap="butt" stroke-linejoin="round"/>
<polyline points="1099.36,616.06 1115.82,600.94" fill="none" stroke="#000" stroke-width="3.4" stroke-linecap="butt" stroke-linejoin="round"/>
<polygon points="1122.49,594.81 1116.86,605.43 1111.43,599.52" fill="#000" stroke="#000" stroke-width="0.5" stroke-linejoin="miter"/>
<polyline points="1099.36,627.87 1115.82,612.75" fill="none" stroke="#000" stroke-width="3.4" stroke-linecap="butt" stroke-linejoin="round"/>
<polygon points="1122.49,606.62 1116.86,617.24 1111.43,611.33" fill="#000" stroke="#000" stroke-width="0.5" stroke-linejoin="miter"/>
<polyline points="1164.76,616.06 1181.22,600.94" fill="none" stroke="#000" stroke-width="3.4" stroke-linecap="butt" stroke-linejoin="round"/>
<polygon points="1187.89,594.81 1182.26,605.43 1176.83,599.52" fill="#000" stroke="#000" stroke-width="0.5" stroke-linejoin="miter"/>
<polyline points="1164.76,627.87 1181.22,612.75" fill="none" stroke="#000" stroke-width="3.4" stroke-linecap="butt" stroke-linejoin="round"/>
<polygon points="1187.89,606.62 1182.26,617.24 1176.83,611.33" fill="#000" stroke="#000" stroke-width="0.5" stroke-linejoin="miter"/>
<polyline points="1418.8,474.4 1395.19,474.4" fill="none" stroke="#000" stroke-width="3.7" stroke-linecap="butt" stroke-linejoin="round"/>
<polygon points="1377.48,474.4 1395.19,468.5 1395.19,480.3" fill="none" stroke="#000" stroke-width="3.7" stroke-linejoin="round"/>
<polyline points="1395.19,474.4 1377.48,474.4" fill="none" stroke="#000" stroke-width="3.7" stroke-linecap="butt" stroke-linejoin="round"/>
<text xml:space="preserve" transform="translate(1338.05,486.08) scale(0.815,1)" font-size="33.5">Iist</text>
<polyline points="1418.8,521.62 1277.14,521.62 1277.14,717.58" fill="none" stroke="#000" stroke-width="3.7" stroke-linecap="butt" stroke-linejoin="round"/>
<polyline points="1418.8,568.84 1395.19,568.84" fill="none" stroke="#000" stroke-width="3.7" stroke-linecap="butt" stroke-linejoin="round"/>
<polyline points="1395.19,552.31 1395.19,585.37" fill="none" stroke="#000" stroke-width="3.7" stroke-linecap="butt" stroke-linejoin="round"/>
<text xml:space="preserve" transform="translate(1323.18,580.28) scale(0.815,1)" font-size="33.5">GND</text>
<polyline points="1418.8,616.06 1395.19,616.06" fill="none" stroke="#000" stroke-width="3.7" stroke-linecap="butt" stroke-linejoin="round"/>
<polygon points="1377.48,616.06 1395.19,610.16 1395.19,621.96" fill="none" stroke="#000" stroke-width="3.7" stroke-linejoin="round"/>
<polyline points="1395.19,616.06 1377.48,616.06" fill="none" stroke="#000" stroke-width="3.7" stroke-linecap="butt" stroke-linejoin="round"/>
<text xml:space="preserve" transform="translate(1325.07,627.74) scale(0.815,1)" font-size="33.5">Uist</text>
<circle cx="1277.14" cy="734.11" r="17.71" fill="none" stroke="#000" stroke-width="3.7"/>
<circle cx="1277.14" cy="757.72" r="17.71" fill="none" stroke="#000" stroke-width="3.7"/>
<text xml:space="preserve" transform="translate(1301.22,756.37) scale(0.86,1)" font-size="42">SQ3</text>
<polyline points="1277.14,774.25 1277.14,797.86" fill="none" stroke="#000" stroke-width="3.7" stroke-linecap="butt" stroke-linejoin="round"/>
<polyline points="1253.06,821.58 1264.15,821.58" fill="none" stroke="#000" stroke-width="4.8" stroke-linecap="butt" stroke-linejoin="round"/>
<text transform="translate(1267.22,833.38) scale(0.815,1)" font-size="33.5">9V</text>
<polyline points="1258.25,658.56 1258.25,687.13" fill="none" stroke="#000" stroke-width="3.4" stroke-linecap="butt" stroke-linejoin="round"/>
<polygon points="1258.25,702.24 1252.7,683.35 1263.8,683.35" fill="#000" stroke="#000" stroke-width="0.5" stroke-linejoin="miter"/>
<polyline points="1271.47,669.42 1282.81,680.75" fill="none" stroke="#000" stroke-width="3.5" stroke-linecap="butt" stroke-linejoin="round"/>
<polyline points="1271.47,680.75 1282.81,669.42" fill="none" stroke="#000" stroke-width="3.5" stroke-linecap="butt" stroke-linejoin="round"/>
<text xml:space="preserve" transform="translate(1288.94,674.49) scale(0.815,1)" font-size="33.5">Icq3</text>
<text xml:space="preserve" transform="translate(1288.94,708.49) scale(0.815,1)" font-size="33.5">2,0mA</text>
<polyline points="852.16,663.28 852.16,819.11" fill="none" stroke="#000" stroke-width="3.7" stroke-linecap="butt" stroke-linejoin="round"/>
<circle cx="852.16" cy="686.89" r="7.08" fill="#000"/>
<polyline points="852.16,686.89 869.87,686.89" fill="none" stroke="#000" stroke-width="3.7" stroke-linecap="butt" stroke-linejoin="round"/>
<polyline points="869.87,663.28 869.87,710.5" fill="none" stroke="#000" stroke-width="3.7" stroke-linecap="butt" stroke-linejoin="round"/>
<polyline points="881.67,663.28 881.67,710.5" fill="none" stroke="#000" stroke-width="3.7" stroke-linecap="butt" stroke-linejoin="round"/>
<polyline points="881.67,686.89 899.38,686.89" fill="none" stroke="#000" stroke-width="3.7" stroke-linecap="butt" stroke-linejoin="round"/>
<polyline points="899.38,670.36 899.38,703.42" fill="none" stroke="#000" stroke-width="3.7" stroke-linecap="butt" stroke-linejoin="round"/>
<text xml:space="preserve" transform="translate(834.45,652.06) scale(0.815,1)" font-size="33.5">+9V</text>
<text xml:space="preserve" transform="translate(911.19,680.39) scale(0.815,1)" font-size="33.5">C11</text>
<text xml:space="preserve" transform="translate(911.19,714.62) scale(0.815,1)" font-size="33.5">100n</text>
<polyline points="852.16,885.21 852.16,970.21" fill="none" stroke="#000" stroke-width="3.7" stroke-linecap="butt" stroke-linejoin="round"/>
<circle cx="852.16" cy="946.6" r="7.08" fill="#000"/>
<polyline points="852.16,946.6 869.87,946.6" fill="none" stroke="#000" stroke-width="3.7" stroke-linecap="butt" stroke-linejoin="round"/>
<polyline points="869.87,922.99 869.87,970.21" fill="none" stroke="#000" stroke-width="3.7" stroke-linecap="butt" stroke-linejoin="round"/>
<polyline points="881.67,922.99 881.67,970.21" fill="none" stroke="#000" stroke-width="3.7" stroke-linecap="butt" stroke-linejoin="round"/>
<polyline points="881.67,946.6 899.38,946.6" fill="none" stroke="#000" stroke-width="3.7" stroke-linecap="butt" stroke-linejoin="round"/>
<polyline points="899.38,930.07 899.38,963.13" fill="none" stroke="#000" stroke-width="3.7" stroke-linecap="butt" stroke-linejoin="round"/>
<polyline points="822.88,991.81 833.98,991.81" fill="none" stroke="#000" stroke-width="4.8" stroke-linecap="butt" stroke-linejoin="round"/>
<text transform="translate(837.05,1003.61) scale(0.815,1)" font-size="33.5">9V</text>
<text xml:space="preserve" transform="translate(911.19,945.29) scale(0.815,1)" font-size="33.5">C12</text>
<text xml:space="preserve" transform="translate(911.19,979.06) scale(0.815,1)" font-size="33.5">100n</text>
<polygon points="828.55,804.94 828.55,899.38 922.99,852.16" fill="#fff" stroke="#000" stroke-width="3.7" stroke-linejoin="miter"/>
<polyline points="835.16,828.55 845.55,828.55" fill="none" stroke="#000" stroke-width="3.5" stroke-linecap="butt" stroke-linejoin="round"/>
<polyline points="834.69,875.77 846.02,875.77" fill="none" stroke="#000" stroke-width="3.5" stroke-linecap="butt" stroke-linejoin="round"/>
<polyline points="840.36,870.1 840.36,881.44" fill="none" stroke="#000" stroke-width="3.5" stroke-linecap="butt" stroke-linejoin="round"/>
<text xml:space="preserve" transform="translate(804.47,821.11) scale(0.815,1)" font-size="28">2</text>
<text xml:space="preserve" transform="translate(804.47,868.56) scale(0.815,1)" font-size="28">3</text>
<text xml:space="preserve" transform="translate(856.88,816.62) scale(0.815,1)" font-size="28">7</text>
<text xml:space="preserve" transform="translate(928.18,844.72) scale(0.815,1)" font-size="28">6</text>
<text xml:space="preserve" transform="translate(848.15,863.13) scale(0.815,1)" font-size="30">07</text>
<text xml:space="preserve" transform="translate(905.28,886.03) scale(0.815,1)" font-size="28">8</text>
<text xml:space="preserve" transform="translate(882.14,898.31) scale(0.815,1)" font-size="28">1</text>
<text xml:space="preserve" transform="translate(856.17,910.59) scale(0.815,1)" font-size="28">4</text>
<polyline points="875.77,875.77 875.77,911.19" fill="none" stroke="#000" stroke-width="3.7" stroke-linecap="butt" stroke-linejoin="round"/>
<polyline points="899.38,863.97 899.38,899.38" fill="none" stroke="#000" stroke-width="3.7" stroke-linecap="butt" stroke-linejoin="round"/>
<text xml:space="preserve" transform="translate(782.04,763.26) scale(0.815,1)" font-size="33.5">IC3</text>
<polyline points="663.28,592.45 663.28,592.45" fill="none" stroke="#000" stroke-width="3.7" stroke-linecap="butt" stroke-linejoin="round"/>
<polyline points="710.5,639.67 663.28,639.67 663.28,781.33 686.89,781.33" fill="none" stroke="#000" stroke-width="3.7" stroke-linecap="butt" stroke-linejoin="round"/>
<polygon points="675.09,639.67 692.79,633.77 692.79,645.57" fill="none" stroke="#000" stroke-width="3.7" stroke-linejoin="round"/>
<polyline points="692.79,639.67 675.09,639.67" fill="none" stroke="#000" stroke-width="3.7" stroke-linecap="butt" stroke-linejoin="round"/>
<text xml:space="preserve" transform="translate(717.58,652.29) scale(0.815,1)" font-size="33.5">Iist</text>
<rect x="686.89" y="769.52" width="70.83" height="23.61" fill="#fff" stroke="#000" stroke-width="3.7"/>
<polyline points="757.72,781.33 917.09,781.33" fill="none" stroke="#000" stroke-width="3.7" stroke-linecap="butt" stroke-linejoin="round"/>
<polyline points="928.89,781.33 970.21,781.33 970.21,852.16" fill="none" stroke="#000" stroke-width="3.7" stroke-linecap="butt" stroke-linejoin="round"/>
<polyline points="917.09,757.72 917.09,804.94" fill="none" stroke="#000" stroke-width="3.7" stroke-linecap="butt" stroke-linejoin="round"/>
<polyline points="928.89,757.72 928.89,804.94" fill="none" stroke="#000" stroke-width="3.7" stroke-linecap="butt" stroke-linejoin="round"/>
<circle cx="781.33" cy="781.33" r="7.08" fill="#000"/>
<polyline points="781.33,781.33 781.33,828.55 828.55,828.55" fill="none" stroke="#000" stroke-width="3.7" stroke-linecap="butt" stroke-linejoin="round"/>
<text xml:space="preserve" transform="translate(703.42,721.24) scale(0.815,1)" font-size="33.5">R8</text>
<text xml:space="preserve" transform="translate(698.7,755.0) scale(0.815,1)" font-size="33.5">10k</text>
<text xml:space="preserve" transform="translate(863.73,767.98) scale(0.815,1)" font-size="33.5">C13</text>
<text xml:space="preserve" transform="translate(939.52,767.98) scale(0.815,1)" font-size="33.5">220</text>
<text xml:space="preserve" transform="translate(662.1,838.81) scale(0.815,1)" font-size="33.5">R7 =</text>
<text xml:space="preserve" transform="translate(735.29,838.81) scale(0.815,1)" font-size="33.5">R8</text>
<rect x="686.89" y="863.97" width="70.83" height="23.61" fill="#fff" stroke="#000" stroke-width="3.7"/>
<polyline points="757.72,875.77 828.55,875.77" fill="none" stroke="#000" stroke-width="3.7" stroke-linecap="butt" stroke-linejoin="round"/>
<text xml:space="preserve" transform="translate(703.42,922.63) scale(0.815,1)" font-size="33.5">R7</text>
<text xml:space="preserve" transform="translate(698.7,955.68) scale(0.815,1)" font-size="33.5">10k</text>
<polyline points="922.99,852.16 1017.43,852.16" fill="none" stroke="#000" stroke-width="3.7" stroke-linecap="butt" stroke-linejoin="round"/>
<circle cx="970.21" cy="852.16" r="7.08" fill="#000"/>
<circle cx="993.82" cy="852.16" r="7.08" fill="#000"/>
<rect x="1017.43" y="840.36" width="70.83" height="23.61" fill="#fff" stroke="#000" stroke-width="3.7"/>
<text xml:space="preserve" transform="translate(1035.85,898.55) scale(0.815,1)" font-size="33.5">R9</text>
<text xml:space="preserve" transform="translate(1029.94,932.31) scale(0.815,1)" font-size="33.5">100</text>
<polyline points="1088.26,852.16 1111.87,852.16" fill="none" stroke="#000" stroke-width="3.7" stroke-linecap="butt" stroke-linejoin="round"/>
<polyline points="1111.87,852.16 1111.87,875.77 1135.48,875.77 1135.48,852.16" fill="none" stroke="#000" stroke-width="3.7" stroke-linecap="butt" stroke-linejoin="round"/>
<text xml:space="preserve" transform="translate(1100.07,910.12) scale(0.815,1)" font-size="33.5">JP2</text>
<polyline points="1141.62,852.16 1229.92,852.16" fill="none" stroke="#000" stroke-width="3.7" stroke-linecap="butt" stroke-linejoin="round"/>
<polygon points="1164.99,852.16 1200.41,834.45 1200.41,869.87" fill="none" stroke="#000" stroke-width="3.7" stroke-linejoin="miter"/>
<polyline points="1164.99,834.45 1164.99,869.87" fill="none" stroke="#000" stroke-width="3.7" stroke-linecap="butt" stroke-linejoin="round"/>
<text xml:space="preserve" transform="translate(1165.46,821.81) scale(0.815,1)" font-size="33.5">D4</text>
<circle cx="1229.92" cy="852.16" r="7.08" fill="#000"/>
<polyline points="1229.92,852.16 1229.92,946.6 1194.51,980.83" fill="none" stroke="#000" stroke-width="3.7" stroke-linecap="butt" stroke-linejoin="round"/>
<polygon points="1229.92,934.8 1212.21,899.38 1247.63,899.38" fill="none" stroke="#000" stroke-width="3.7" stroke-linejoin="miter"/>
<polyline points="1212.21,934.8 1247.63,934.8" fill="none" stroke="#000" stroke-width="3.7" stroke-linecap="butt" stroke-linejoin="round"/>
<text xml:space="preserve" transform="translate(1172.08,928.53) scale(0.815,1)" font-size="33.5">D5</text>
<polyline points="1194.51,970.21 1194.51,1017.43" fill="none" stroke="#000" stroke-width="4.1" stroke-linecap="butt" stroke-linejoin="round"/>
<polyline points="1170.89,993.82 1194.51,993.82" fill="none" stroke="#000" stroke-width="3.7" stroke-linecap="butt" stroke-linejoin="round"/>
<polyline points="1194.51,1006.81 1229.92,1041.04 1229.92,1064.65" fill="none" stroke="#000" stroke-width="3.7" stroke-linecap="butt" stroke-linejoin="round"/>
<polyline points="1212.21,1064.65 1247.63,1064.65" fill="none" stroke="#000" stroke-width="3.7" stroke-linecap="butt" stroke-linejoin="round"/>
<polygon points="1219.3,1030.89 1202.77,1025.69 1213.39,1014.6" fill="#000" stroke="#000" stroke-width="1" stroke-linejoin="miter"/>
<text xml:space="preserve" transform="translate(1206.31,1000.54) scale(0.815,1)" font-size="33.5">Q1</text>
<rect x="1100.07" y="982.01" width="70.83" height="23.61" fill="#fff" stroke="#000" stroke-width="3.7"/>
<text xml:space="preserve" transform="translate(1110.93,1040.68) scale(0.815,1)" font-size="33.5">R10</text>
<text xml:space="preserve" transform="translate(1121.79,1074.44) scale(0.815,1)" font-size="33.5">1k</text>
<polyline points="1041.04,993.82 1100.07,993.82" fill="none" stroke="#000" stroke-width="3.7" stroke-linecap="butt" stroke-linejoin="round"/>
<polygon points="1077.64,993.82 1059.93,987.92 1059.93,999.72" fill="none" stroke="#000" stroke-width="3.7" stroke-linejoin="round"/>
<polyline points="1059.93,993.82 1077.64,993.82" fill="none" stroke="#000" stroke-width="3.7" stroke-linecap="butt" stroke-linejoin="round"/>
<text xml:space="preserve" transform="translate(1000.9,1004.32) scale(0.815,1)" font-size="33.5">Iist</text>
<polyline points="1229.92,852.16 1324.36,852.16 1324.36,970.21" fill="none" stroke="#000" stroke-width="3.7" stroke-linecap="butt" stroke-linejoin="round"/>
<polygon points="1324.36,934.8 1306.65,899.38 1342.07,899.38" fill="none" stroke="#000" stroke-width="3.7" stroke-linejoin="miter"/>
<polyline points="1306.65,934.8 1342.07,934.8" fill="none" stroke="#000" stroke-width="3.7" stroke-linecap="butt" stroke-linejoin="round"/>
<polyline points="1306.65,970.21 1342.07,970.21" fill="none" stroke="#000" stroke-width="3.7" stroke-linecap="butt" stroke-linejoin="round"/>
<text xml:space="preserve" transform="translate(1324.36,1004.32) scale(0.815,1)" font-size="33.5" text-anchor="middle">D6-D10</text>
<text xml:space="preserve" transform="translate(1324.36,1038.55) scale(0.815,1)" font-size="33.5" text-anchor="middle">5x in Serie</text>
<text xml:space="preserve" transform="translate(1324.36,1072.55) scale(0.815,1)" font-size="33.5" text-anchor="middle">Mini RM5</text>
<text xml:space="preserve" transform="translate(712.86,1074.91) scale(0.815,1)" font-size="33.5">BE-Index separat</text>
<text xml:space="preserve" transform="translate(2137.96,37.02) scale(0.815,1)" font-size="33.5" text-anchor="end">© 2017-10-31 P.E.Burkhardt ent5-6b</text>
<text xml:space="preserve" transform="translate(1498.37,120.83) scale(0.815,1)" font-size="33.5">+30V1</text>
<polyline points="1536.85,126.62 1536.85,261.91" fill="none" stroke="#000" stroke-width="5.3" stroke-linecap="butt" stroke-linejoin="round"/>
<text xml:space="preserve" transform="translate(1549.13,219.48) scale(0.86,1)" font-size="44">TIP</text>
<text xml:space="preserve" transform="translate(1468.14,250.45) scale(0.815,1)" font-size="33.5">X5.5</text>
<polyline points="1536.85,261.91 1560.46,238.3 1666.7,238.3" fill="none" stroke="#000" stroke-width="3.7" stroke-linecap="butt" stroke-linejoin="round"/>
<rect x="1666.7" y="226.49" width="70.83" height="23.61" fill="#fff" stroke="#000" stroke-width="3.7"/>
<polyline points="1737.54,238.3 1961.83,238.3 1961.83,710.5 1938.22,710.5" fill="none" stroke="#000" stroke-width="3.7" stroke-linecap="butt" stroke-linejoin="round"/>
<text xml:space="preserve" transform="translate(1702.12,149.17) scale(0.815,1)" font-size="33.5" text-anchor="middle">R1</text>
<text xml:space="preserve" transform="translate(1702.12,183.16) scale(0.815,1)" font-size="33.5" text-anchor="middle">3,3k</text>
<text xml:space="preserve" transform="translate(1702.12,216.93) scale(0.815,1)" font-size="33.5" text-anchor="middle">0,6W</text>
<text xml:space="preserve" transform="translate(1754.06,220.0) scale(0.815,1)" font-size="33.5">5.8</text>
<rect x="1466.02" y="261.91" width="118.05" height="165.27" fill="none" stroke="#000" stroke-width="3.7" stroke-dasharray="6.7 4.0"/>
<polyline points="1418.8,356.35 1466.02,356.35" fill="none" stroke="#000" stroke-width="3.7" stroke-linecap="butt" stroke-linejoin="round"/>
<rect x="1449.49" y="306.77" width="44.858999999999995" height="27.1515" fill="#fff"/>
<text xml:space="preserve" transform="translate(1451.85,333.09) scale(0.815,1)" font-size="33.5">5.6</text>
<polyline points="1487.98,356.35 1501.43,356.35" fill="none" stroke="#000" stroke-width="3.7" stroke-linecap="butt" stroke-linejoin="round"/>
<polyline points="1501.43,332.74 1501.43,379.96" fill="none" stroke="#000" stroke-width="4.1" stroke-linecap="butt" stroke-linejoin="round"/>
<polyline points="1536.85,261.91 1536.85,320.46" fill="none" stroke="#000" stroke-width="3.7" stroke-linecap="butt" stroke-linejoin="round"/>
<polyline points="1501.43,341.0 1536.85,309.13" fill="none" stroke="#000" stroke-width="3.7" stroke-linecap="butt" stroke-linejoin="round"/>
<polyline points="1501.43,352.81 1536.85,320.46 1536.85,309.13" fill="none" stroke="#000" stroke-width="3.7" stroke-linecap="butt" stroke-linejoin="round"/>
<polyline points="1501.43,368.15 1536.85,403.57 1560.46,403.57" fill="none" stroke="#000" stroke-width="3.7" stroke-linecap="butt" stroke-linejoin="round"/>
<polygon points="1523.16,389.88 1506.63,384.68 1517.25,373.59" fill="#000" stroke="#000" stroke-width="1" stroke-linejoin="miter"/>
<text xml:space="preserve" transform="translate(1519.85,368.74) scale(0.815,1)" font-size="33.5">3x</text>
<polyline points="1584.07,403.57 1666.7,403.57" fill="none" stroke="#000" stroke-width="5.3" stroke-linecap="butt" stroke-linejoin="round"/>
<rect x="1666.7" y="391.76" width="70.83" height="23.61" fill="#fff" stroke="#000" stroke-width="3.7"/>
<polyline points="1737.54,403.57 1891.0,403.57" fill="none" stroke="#000" stroke-width="5.3" stroke-linecap="butt" stroke-linejoin="round"/>
<text xml:space="preserve" transform="translate(1612.17,387.39) scale(0.815,1)" font-size="33.5">5.4</text>
<text xml:space="preserve" transform="translate(1754.06,387.39) scale(0.815,1)" font-size="33.5">5.1</text>
<text xml:space="preserve" transform="translate(1702.12,285.4) scale(0.815,1)" font-size="33.5" text-anchor="middle">Rs</text>
<text xml:space="preserve" transform="translate(1702.12,320.1) scale(0.815,1)" font-size="33.5" text-anchor="middle">0,1 (10x1 II)</text>
<text xml:space="preserve" transform="translate(1702.12,352.45) scale(0.815,1)" font-size="33.5" text-anchor="middle">200mV/2A</text>
<polyline points="1677.57,373.82 1709.2,373.82" fill="none" stroke="#000" stroke-width="3.4" stroke-linecap="butt" stroke-linejoin="round"/>
<polygon points="1724.31,373.82 1705.43,379.37 1705.43,368.27" fill="#000" stroke="#000" stroke-width="0.5" stroke-linejoin="miter"/>
<text xml:space="preserve" transform="translate(1826.31,356.46) scale(0.815,1)" font-size="33.5">C1</text>
<text xml:space="preserve" transform="translate(1817.81,391.4) scale(0.815,1)" font-size="33.5">2,2µ</text>
<text xml:space="preserve" transform="translate(1897.61,368.74) scale(0.815,1)" font-size="33.5">S1</text>
<polyline points="1891.0,403.57 1938.22,379.96" fill="none" stroke="#000" stroke-width="5.3" stroke-linecap="butt" stroke-linejoin="round"/>
<polyline points="1914.61,393.18 1914.61,627.87" fill="none" stroke="#000" stroke-width="3.7" stroke-linecap="butt" stroke-linejoin="round" stroke-dasharray="14.5 8.5"/>
<polyline points="1938.22,403.57 2103.49,403.57" fill="none" stroke="#000" stroke-width="5.3" stroke-linecap="butt" stroke-linejoin="round"/>
<polyline points="2115.29,391.76 2103.49,403.57 2115.29,415.38" fill="none" stroke="#000" stroke-width="3.7" stroke-linecap="butt" stroke-linejoin="round"/>
<polyline points="1631.29,403.57 1607.68,427.18 1607.68,474.4 1418.8,474.4" fill="none" stroke="#000" stroke-width="3.7" stroke-linecap="butt" stroke-linejoin="round"/>
<polyline points="1631.29,403.57 1631.29,521.62 1418.8,521.62" fill="none" stroke="#000" stroke-width="3.7" stroke-linecap="butt" stroke-linejoin="round"/>
<polyline points="1631.29,403.57 1654.9,427.18 1654.9,450.79" fill="none" stroke="#000" stroke-width="3.7" stroke-linecap="butt" stroke-linejoin="round"/>
<polygon points="1654.9,462.59 1649.0,444.89 1660.8,444.89" fill="none" stroke="#000" stroke-width="3.7" stroke-linejoin="round"/>
<polyline points="1654.9,444.89 1654.9,462.59" fill="none" stroke="#000" stroke-width="3.7" stroke-linecap="butt" stroke-linejoin="round"/>
<text xml:space="preserve" transform="translate(1643.8,498.59) scale(0.815,1)" font-size="33.5">Ia+</text>
<polyline points="1772.95,403.57 1749.34,427.18 1749.34,450.79" fill="none" stroke="#000" stroke-width="3.7" stroke-linecap="butt" stroke-linejoin="round"/>
<polygon points="1749.34,462.59 1743.44,444.89 1755.24,444.89" fill="none" stroke="#000" stroke-width="3.7" stroke-linejoin="round"/>
<polyline points="1749.34,444.89 1749.34,462.59" fill="none" stroke="#000" stroke-width="3.7" stroke-linecap="butt" stroke-linejoin="round"/>
<text xml:space="preserve" transform="translate(1726.2,498.59) scale(0.815,1)" font-size="33.5">Ia</text>
<polyline points="1751.23,486.91 1761.62,486.91" fill="none" stroke="#000" stroke-width="4.8" stroke-linecap="butt" stroke-linejoin="round"/>
<polyline points="1772.95,403.57 1772.95,568.84 1418.8,568.84" fill="none" stroke="#000" stroke-width="3.7" stroke-linecap="butt" stroke-linejoin="round"/>
<polyline points="1772.95,403.57 1796.56,427.18 1796.56,450.79" fill="none" stroke="#000" stroke-width="3.7" stroke-linecap="butt" stroke-linejoin="round"/>
<polygon points="1796.56,462.59 1790.66,444.89 1802.46,444.89" fill="none" stroke="#000" stroke-width="3.7" stroke-linejoin="round"/>
<polyline points="1796.56,444.89 1796.56,462.59" fill="none" stroke="#000" stroke-width="3.7" stroke-linecap="butt" stroke-linejoin="round"/>
<text xml:space="preserve" transform="translate(1784.76,498.59) scale(0.815,1)" font-size="33.5">Ua+</text>
<polyline points="1772.95,403.57 1843.78,427.18 1843.78,533.43" fill="none" stroke="#000" stroke-width="3.7" stroke-linecap="butt" stroke-linejoin="round"/>
<polyline points="1820.17,533.43 1867.39,533.43" fill="none" stroke="#000" stroke-width="3.7" stroke-linecap="butt" stroke-linejoin="round"/>
<polyline points="1820.17,545.23 1867.39,545.23" fill="none" stroke="#000" stroke-width="3.7" stroke-linecap="butt" stroke-linejoin="round"/>
<polyline points="1843.78,545.23 1843.78,616.06 1796.56,616.06 1772.95,639.67" fill="none" stroke="#000" stroke-width="3.7" stroke-linecap="butt" stroke-linejoin="round"/>
<text xml:space="preserve" transform="translate(2125.45,279.26) scale(0.815,1)" font-size="33.5" text-anchor="end">0...30V</text>
<text xml:space="preserve" transform="translate(2125.45,313.49) scale(0.815,1)" font-size="33.5" text-anchor="end">0...2A</text>
<text xml:space="preserve" transform="translate(2125.45,346.54) scale(0.815,1)" font-size="33.5" text-anchor="end">+Ua</text>
<text xml:space="preserve" transform="translate(2131.35,380.54) scale(0.815,1)" font-size="33.5" text-anchor="end">X1.1</text>
<text xml:space="preserve" transform="translate(2015.19,386.68) scale(0.815,1)" font-size="33.5">D1</text>
<text xml:space="preserve" transform="translate(1969.62,445.94) scale(0.815,1)" font-size="33.5">X4.1</text>
<text xml:space="preserve" transform="translate(2091.45,449.72) scale(0.815,1)" font-size="33.5">C2</text>
<polyline points="2032.66,403.57 2032.66,639.67" fill="none" stroke="#000" stroke-width="3.7" stroke-linecap="butt" stroke-linejoin="round"/>
<polygon points="2032.66,503.91 2014.95,539.33 2050.37,539.33" fill="none" stroke="#000" stroke-width="3.7" stroke-linejoin="miter"/>
<polyline points="2014.95,503.91 2050.37,503.91" fill="none" stroke="#000" stroke-width="3.7" stroke-linecap="butt" stroke-linejoin="round"/>
<polyline points="2079.88,403.57 2079.88,462.59" fill="none" stroke="#000" stroke-width="3.7" stroke-linecap="butt" stroke-linejoin="round"/>
<polyline points="2056.27,462.59 2103.49,462.59" fill="none" stroke="#000" stroke-width="3.7" stroke-linecap="butt" stroke-linejoin="round"/>
<polyline points="2056.27,474.4 2103.49,474.4" fill="none" stroke="#000" stroke-width="3.7" stroke-linecap="butt" stroke-linejoin="round"/>
<polyline points="2079.88,474.4 2079.88,568.84" fill="none" stroke="#000" stroke-width="3.7" stroke-linecap="butt" stroke-linejoin="round"/>
<polyline points="2056.27,568.84 2103.49,568.84" fill="none" stroke="#000" stroke-width="3.7" stroke-linecap="butt" stroke-linejoin="round"/>
<polyline points="2056.27,580.64 2103.49,580.64" fill="none" stroke="#000" stroke-width="3.7" stroke-linecap="butt" stroke-linejoin="round"/>
<polyline points="2079.88,580.64 2079.88,639.67" fill="none" stroke="#000" stroke-width="3.7" stroke-linecap="butt" stroke-linejoin="round"/>
<polyline points="2079.88,521.62 2103.49,521.62" fill="none" stroke="#000" stroke-width="3.7" stroke-linecap="butt" stroke-linejoin="round"/>
<polyline points="2103.49,498.01 2103.49,545.23" fill="none" stroke="#000" stroke-width="3.7" stroke-linecap="butt" stroke-linejoin="round"/>
<polyline points="2109.86,508.63 2109.86,534.61" fill="none" stroke="#000" stroke-width="3.7" stroke-linecap="butt" stroke-linejoin="round"/>
<polyline points="2116.24,516.9 2116.24,526.34" fill="none" stroke="#000" stroke-width="3.7" stroke-linecap="butt" stroke-linejoin="round"/>
<circle cx="2032.66" cy="403.57" r="7.08" fill="#000"/>
<circle cx="2079.88" cy="403.57" r="7.08" fill="#000"/>
<circle cx="2079.88" cy="521.62" r="7.08" fill="#000"/>
<circle cx="2032.66" cy="639.67" r="7.08" fill="#000"/>
<circle cx="2079.88" cy="639.67" r="7.08" fill="#000"/>
<polyline points="1542.75,686.89 1542.75,639.67 1891.0,639.67" fill="none" stroke="#000" stroke-width="5.3" stroke-linecap="butt" stroke-linejoin="round"/>
<polyline points="1938.22,639.67 2103.49,639.67" fill="none" stroke="#000" stroke-width="5.3" stroke-linecap="butt" stroke-linejoin="round"/>
<polyline points="2115.29,627.87 2103.49,639.67 2115.29,651.48" fill="none" stroke="#000" stroke-width="3.7" stroke-linecap="butt" stroke-linejoin="round"/>
<polyline points="1891.0,639.67 1938.22,616.06" fill="none" stroke="#000" stroke-width="5.3" stroke-linecap="butt" stroke-linejoin="round"/>
<polyline points="1938.22,616.06 1961.83,616.06" fill="none" stroke="#000" stroke-width="3.7" stroke-linecap="butt" stroke-linejoin="round"/>
<circle cx="1961.83" cy="616.06" r="7.08" fill="#000"/>
<polyline points="1418.8,616.06 1749.34,616.06 1772.95,639.67" fill="none" stroke="#000" stroke-width="3.7" stroke-linecap="butt" stroke-linejoin="round"/>
<polyline points="1772.95,639.67 1796.56,663.28 1796.56,710.5" fill="none" stroke="#000" stroke-width="3.7" stroke-linecap="butt" stroke-linejoin="round"/>
<polygon points="1796.56,722.31 1790.66,704.6 1802.46,704.6" fill="none" stroke="#000" stroke-width="3.7" stroke-linejoin="round"/>
<polyline points="1796.56,704.6 1796.56,722.31" fill="none" stroke="#000" stroke-width="3.7" stroke-linecap="butt" stroke-linejoin="round"/>
<text xml:space="preserve" transform="translate(1780.03,752.16) scale(0.815,1)" font-size="33.5">Ua</text>
<polyline points="1814.98,740.72 1825.36,740.72" fill="none" stroke="#000" stroke-width="4.8" stroke-linecap="butt" stroke-linejoin="round"/>
<text xml:space="preserve" transform="translate(1721.24,681.33) scale(0.815,1)" font-size="33.5">X5.7</text>
<text xml:space="preserve" transform="translate(1500.49,716.51) scale(0.815,1)" font-size="33.5">0(30V1)</text>
<circle cx="1867.39" cy="639.67" r="7.08" fill="#000"/>
<polyline points="1867.39,639.67 1867.39,710.5 1961.83,710.5" fill="none" stroke="#000" stroke-width="3.7" stroke-linecap="butt" stroke-linejoin="round"/>
<polygon points="1902.81,710.5 1938.22,692.79 1938.22,728.21" fill="none" stroke="#000" stroke-width="3.7" stroke-linejoin="miter"/>
<polyline points="1902.81,692.79 1902.81,728.21" fill="none" stroke="#000" stroke-width="3.7" stroke-linecap="butt" stroke-linejoin="round"/>
<polyline points="1915.08,691.14 1930.58,677.69" fill="none" stroke="#000" stroke-width="3.4" stroke-linecap="butt" stroke-linejoin="round"/>
<polygon points="1936.57,672.49 1931.4,681.66 1926.76,676.31" fill="#000" stroke="#000" stroke-width="0.5" stroke-linejoin="miter"/>
<polyline points="1926.41,691.14 1941.91,677.69" fill="none" stroke="#000" stroke-width="3.4" stroke-linecap="butt" stroke-linejoin="round"/>
<polygon points="1947.9,672.49 1942.73,681.66 1938.09,676.31" fill="#000" stroke="#000" stroke-width="0.5" stroke-linejoin="miter"/>
<text xml:space="preserve" transform="translate(1873.53,763.26) scale(0.815,1)" font-size="33.5">Ua ON</text>
<text xml:space="preserve" transform="translate(1861.72,797.02) scale(0.815,1)" font-size="33.5">LED3 gn</text>
<text xml:space="preserve" transform="translate(1969.62,675.43) scale(0.815,1)" font-size="33.5">X4.2</text>
<text xml:space="preserve" transform="translate(2076.81,687.95) scale(0.815,1)" font-size="33.5">X1.2</text>
<text xml:space="preserve" transform="translate(2072.09,721.94) scale(0.815,1)" font-size="33.5">2x</text>
<text xml:space="preserve" transform="translate(2056.03,756.18) scale(0.815,1)" font-size="33.5">100n</text>
<text xml:space="preserve" transform="translate(2091.45,615.23) scale(0.815,1)" font-size="33.5">C3</text>
<text xml:space="preserve" transform="translate(1466.49,769.87) scale(0.815,1)" font-size="33.5">BE-Index separat,</text>
<text xml:space="preserve" transform="translate(1466.49,803.52) scale(0.815,1)" font-size="33.5">"-A" angehängt</text>
<text xml:space="preserve" transform="translate(1466.49,837.16) scale(0.815,1)" font-size="33.5">außer X4</text>
<text xml:space="preserve" transform="translate(20.14,633.64) scale(0.815,1)" font-size="33.5">Isoll</text>
<text xml:space="preserve" transform="translate(20.14,667.29) scale(0.815,1)" font-size="33.5">VR2</text>
<text xml:space="preserve" transform="translate(20.14,700.93) scale(0.815,1)" font-size="33.5">470</text>
<polyline points="120.25,710.5 49.42,710.5 49.42,734.11" fill="none" stroke="#000" stroke-width="3.7" stroke-linecap="butt" stroke-linejoin="round"/>
<polyline points="49.42,804.94 49.42,1064.65 191.08,1064.65" fill="none" stroke="#000" stroke-width="3.7" stroke-linecap="butt" stroke-linejoin="round"/>
<rect x="37.62" y="734.11" width="23.61" height="70.83" fill="#fff" stroke="#000" stroke-width="3.7"/>
<circle cx="49.42" cy="793.13" r="5.19" fill="#000"/>
<polyline points="120.25,804.94 84.83,804.94 19.91,741.19" fill="none" stroke="#000" stroke-width="3.7" stroke-linecap="butt" stroke-linejoin="round"/>
<polygon points="14.0,735.29 31.71,743.55 22.27,753.0" fill="#000" stroke="#000" stroke-width="1" stroke-linejoin="miter"/>
<circle cx="84.83" cy="804.94" r="7.08" fill="#000"/>
<polyline points="84.83,804.94 84.83,1017.43 191.08,1017.43" fill="none" stroke="#000" stroke-width="3.7" stroke-linecap="butt" stroke-linejoin="round"/>
<circle cx="49.42" cy="875.77" r="7.08" fill="#000"/>
<polyline points="49.42,875.77 143.86,875.77" fill="none" stroke="#000" stroke-width="3.7" stroke-linecap="butt" stroke-linejoin="round"/>
<polyline points="143.86,859.24 143.86,892.3" fill="none" stroke="#000" stroke-width="3.7" stroke-linecap="butt" stroke-linejoin="round"/>
<text xml:space="preserve" transform="translate(100.18,740.83) scale(0.815,1)" font-size="33.5">e</text>
<text xml:space="preserve" transform="translate(101.36,793.25) scale(0.815,1)" font-size="33.5">s</text>
<text xml:space="preserve" transform="translate(100.18,864.55) scale(0.815,1)" font-size="33.5">a</text>
<polyline points="120.25,710.5 545.23,710.5" fill="none" stroke="#000" stroke-width="3.7" stroke-linecap="butt" stroke-linejoin="round"/>
<polyline points="179.98,704.83 191.32,716.17" fill="none" stroke="#000" stroke-width="3.5" stroke-linecap="butt" stroke-linejoin="round"/>
<polyline points="179.98,716.17 191.32,704.83" fill="none" stroke="#000" stroke-width="3.5" stroke-linecap="butt" stroke-linejoin="round"/>
<text xml:space="preserve" transform="translate(144.1,692.9) scale(0.815,1)" font-size="33.5">200mV</text>
<rect x="238.3" y="698.7" width="70.83" height="23.61" fill="#fff" stroke="#000" stroke-width="3.7"/>
<text xml:space="preserve" transform="translate(262.85,650.41) scale(0.815,1)" font-size="33.5">R6</text>
<text xml:space="preserve" transform="translate(253.88,684.17) scale(0.815,1)" font-size="33.5">5,1k</text>
<rect x="332.74" y="698.7" width="70.83" height="23.61" fill="#fff" stroke="#000" stroke-width="3.7"/>
<circle cx="427.18" cy="710.5" r="7.08" fill="#000"/>
<polyline points="427.18,710.5 427.18,675.09 403.57,675.09 339.82,738.83" fill="none" stroke="#000" stroke-width="3.7" stroke-linecap="butt" stroke-linejoin="round"/>
<polyline points="333.81,732.82 345.83,744.84" fill="none" stroke="#000" stroke-width="3.7" stroke-linecap="butt" stroke-linejoin="round"/>
<text xml:space="preserve" transform="translate(333.68,616.17) scale(0.815,1)" font-size="33.5">Imax</text>
<text xml:space="preserve" transform="translate(333.68,649.23) scale(0.815,1)" font-size="33.5">VR3</text>
<text xml:space="preserve" transform="translate(333.68,682.28) scale(0.815,1)" font-size="33.5">470</text>
<text xml:space="preserve" transform="translate(267.81,775.77) scale(0.815,1)" font-size="33.5">(5,381k)</text>
<text xml:space="preserve" transform="translate(391.29,752.4) scale(0.815,1)" font-size="33.5">a</text>
<circle cx="474.4" cy="710.5" r="7.08" fill="#000"/>
<polyline points="474.4,710.5 474.4,639.67" fill="none" stroke="#000" stroke-width="3.7" stroke-linecap="butt" stroke-linejoin="round"/>
<polygon points="474.4,627.87 468.5,645.57 480.3,645.57" fill="none" stroke="#000" stroke-width="3.7" stroke-linejoin="round"/>
<polyline points="474.4,645.57 474.4,627.87" fill="none" stroke="#000" stroke-width="3.7" stroke-linecap="butt" stroke-linejoin="round"/>
<text xml:space="preserve" transform="translate(451.73,622.07) scale(0.815,1)" font-size="33.5">Uref</text>
<text xml:space="preserve" transform="translate(448.9,745.55) scale(0.815,1)" font-size="33.5">Uref</text>
<text xml:space="preserve" transform="translate(424.35,778.84) scale(0.815,1)" font-size="33.5">+2,490V</text>
<polygon points="502.73,710.5 520.44,704.6 520.44,716.4" fill="none" stroke="#000" stroke-width="3.7" stroke-linejoin="round"/>
<polyline points="520.44,710.5 502.73,710.5" fill="none" stroke="#000" stroke-width="3.7" stroke-linecap="butt" stroke-linejoin="round"/>
<rect x="545.23" y="639.67" width="94.44" height="94.44" fill="none" stroke="#000" stroke-width="3.7" stroke-dasharray="6.7 4.0"/>
<text xml:space="preserve" transform="translate(542.4,620.37) scale(0.86,1)" font-size="44">UREF</text>
<polyline points="120.25,804.94 521.62,804.94 521.62,875.77 686.89,875.77" fill="none" stroke="#000" stroke-width="3.7" stroke-linecap="butt" stroke-linejoin="round"/>
<polyline points="220.83,799.27 232.16,810.61" fill="none" stroke="#000" stroke-width="3.5" stroke-linecap="butt" stroke-linejoin="round"/>
<polyline points="220.83,810.61 232.16,799.27" fill="none" stroke="#000" stroke-width="3.5" stroke-linecap="butt" stroke-linejoin="round"/>
<text xml:space="preserve" transform="translate(203.59,839.99) scale(0.815,1)" font-size="33.5">Isoll</text>
<circle cx="568.84" cy="875.77" r="7.08" fill="#000"/>
<circle cx="639.67" cy="875.77" r="7.08" fill="#000"/>
<text xml:space="preserve" transform="translate(280.33,876.35) scale(0.815,1)" font-size="33.5">Q1  SC945</text>
<text xml:space="preserve" transform="translate(280.33,908.94) scale(0.815,1)" font-size="33.5">D3-D5  1N4148</text>
<polyline points="568.84,875.77 568.84,915.91" fill="none" stroke="#000" stroke-width="3.7" stroke-linecap="butt" stroke-linejoin="round"/>
<polyline points="545.23,915.91 592.45,915.91" fill="none" stroke="#000" stroke-width="3.7" stroke-linecap="butt" stroke-linejoin="round"/>
<polyline points="545.23,927.71 592.45,927.71" fill="none" stroke="#000" stroke-width="3.7" stroke-linecap="butt" stroke-linejoin="round"/>
<polyline points="568.84,927.71 568.84,970.21" fill="none" stroke="#000" stroke-width="3.7" stroke-linecap="butt" stroke-linejoin="round"/>
<polyline points="551.13,970.21 586.55,970.21" fill="none" stroke="#000" stroke-width="3.7" stroke-linecap="butt" stroke-linejoin="round"/>
<polyline points="574.98,902.21 591.98,902.21" fill="none" stroke="#000" stroke-width="4" stroke-linecap="butt" stroke-linejoin="round"/>
<polyline points="583.48,893.71 583.48,910.71" fill="none" stroke="#000" stroke-width="4" stroke-linecap="butt" stroke-linejoin="round"/>
<polyline points="639.67,875.77 639.67,915.91" fill="none" stroke="#000" stroke-width="3.7" stroke-linecap="butt" stroke-linejoin="round"/>
<polyline points="616.06,915.91 663.28,915.91" fill="none" stroke="#000" stroke-width="3.7" stroke-linecap="butt" stroke-linejoin="round"/>
<polyline points="616.06,927.71 663.28,927.71" fill="none" stroke="#000" stroke-width="3.7" stroke-linecap="butt" stroke-linejoin="round"/>
<polyline points="639.67,927.71 639.67,970.21" fill="none" stroke="#000" stroke-width="3.7" stroke-linecap="butt" stroke-linejoin="round"/>
<polyline points="621.96,970.21 657.38,970.21" fill="none" stroke="#000" stroke-width="3.7" stroke-linecap="butt" stroke-linejoin="round"/>
<text xml:space="preserve" transform="translate(551.84,1004.32) scale(0.815,1)" font-size="33.5">C9</text>
<text xml:space="preserve" transform="translate(546.41,1038.55) scale(0.815,1)" font-size="33.5">10µ</text>
<text xml:space="preserve" transform="translate(546.41,1071.37) scale(0.815,1)" font-size="33.5">16V</text>
<text xml:space="preserve" transform="translate(615.35,1004.32) scale(0.815,1)" font-size="33.5">C10</text>
<text xml:space="preserve" transform="translate(610.16,1038.55) scale(0.815,1)" font-size="33.5">100n</text>
<text xml:space="preserve" transform="translate(191.55,958.04) scale(0.815,1)" font-size="33.5">Isoll  P3 / DPM438</text>
<rect x="191.08" y="970.21" width="283.32" height="118.05" fill="#fff" stroke="#000" stroke-width="3.7"/>
<polygon points="253.77,993.11 257.38,997.3 253.92,1021.97 249.15,1026.17 245.54,1021.97 249.0,997.3" fill="#000" stroke="none" stroke-width="0" stroke-linejoin="miter"/>
<polygon points="248.49,1030.89 252.09,1035.08 248.64,1059.75 243.86,1063.94 240.25,1059.75 243.71,1035.08" fill="#000" stroke="none" stroke-width="0" stroke-linejoin="miter"/>
<polygon points="213.86,1028.64 218.63,1024.45 242.83,1024.45 246.44,1028.64 241.66,1032.84 217.46,1032.84" fill="#e4e4e4" stroke="none" stroke-width="0" stroke-linejoin="miter"/>
<polygon points="254.71,1062.29 263.21,1062.29 262.09,1070.32 253.59,1070.32" fill="#000" stroke="none" stroke-width="0" stroke-linejoin="miter"/>
<polygon points="286.21,990.75 290.99,986.56 315.19,986.56 318.8,990.75 314.02,994.94 289.82,994.94" fill="#000" stroke="none" stroke-width="0" stroke-linejoin="miter"/>
<polygon points="320.83,993.11 324.43,997.3 320.98,1021.97 316.2,1026.17 312.59,1021.97 316.05,997.3" fill="#000" stroke="none" stroke-width="0" stroke-linejoin="miter"/>
<polygon points="315.54,1030.89 319.14,1035.08 315.69,1059.75 310.91,1063.94 307.31,1059.75 310.76,1035.08" fill="#000" stroke="none" stroke-width="0" stroke-linejoin="miter"/>
<polygon points="275.6,1066.54 280.38,1062.35 304.58,1062.35 308.19,1066.54 303.41,1070.73 279.21,1070.73" fill="#000" stroke="none" stroke-width="0" stroke-linejoin="miter"/>
<polygon points="278.23,1030.89 281.84,1035.08 278.38,1059.75 273.61,1063.94 270.0,1059.75 273.46,1035.08" fill="#e4e4e4" stroke="none" stroke-width="0" stroke-linejoin="miter"/>
<polygon points="283.52,993.11 287.13,997.3 283.67,1021.97 278.9,1026.17 275.29,1021.97 278.75,997.3" fill="#000" stroke="none" stroke-width="0" stroke-linejoin="miter"/>
<polygon points="280.91,1028.64 285.69,1024.45 309.89,1024.45 313.49,1028.64 308.71,1032.84 284.51,1032.84" fill="#000" stroke="none" stroke-width="0" stroke-linejoin="miter"/>
<polygon points="353.15,990.75 357.93,986.56 382.13,986.56 385.73,990.75 380.95,994.94 356.75,994.94" fill="#000" stroke="none" stroke-width="0" stroke-linejoin="miter"/>
<polygon points="387.76,993.11 391.36,997.3 387.91,1021.97 383.13,1026.17 379.53,1021.97 382.98,997.3" fill="#000" stroke="none" stroke-width="0" stroke-linejoin="miter"/>
<polygon points="382.47,1030.89 386.08,1035.08 382.62,1059.75 377.84,1063.94 374.24,1059.75 377.69,1035.08" fill="#000" stroke="none" stroke-width="0" stroke-linejoin="miter"/>
<polygon points="342.54,1066.54 347.32,1062.35 371.52,1062.35 375.12,1066.54 370.34,1070.73 346.14,1070.73" fill="#000" stroke="none" stroke-width="0" stroke-linejoin="miter"/>
<polygon points="345.17,1030.89 348.77,1035.08 345.32,1059.75 340.54,1063.94 336.94,1059.75 340.39,1035.08" fill="#e4e4e4" stroke="none" stroke-width="0" stroke-linejoin="miter"/>
<polygon points="350.46,993.11 354.06,997.3 350.61,1021.97 345.83,1026.17 342.23,1021.97 345.68,997.3" fill="#000" stroke="none" stroke-width="0" stroke-linejoin="miter"/>
<polygon points="347.84,1028.64 352.62,1024.45 376.82,1024.45 380.43,1028.64 375.65,1032.84 351.45,1032.84" fill="#000" stroke="none" stroke-width="0" stroke-linejoin="miter"/>
<polygon points="420.08,990.75 424.86,986.56 449.06,986.56 452.66,990.75 447.89,994.94 423.69,994.94" fill="#000" stroke="none" stroke-width="0" stroke-linejoin="miter"/>
<polygon points="454.7,993.11 458.3,997.3 454.85,1021.97 450.07,1026.17 446.46,1021.97 449.92,997.3" fill="#000" stroke="none" stroke-width="0" stroke-linejoin="miter"/>
<polygon points="449.41,1030.89 453.01,1035.08 449.56,1059.75 444.78,1063.94 441.17,1059.75 444.63,1035.08" fill="#000" stroke="none" stroke-width="0" stroke-linejoin="miter"/>
<polygon points="409.47,1066.54 414.25,1062.35 438.45,1062.35 442.05,1066.54 437.28,1070.73 413.08,1070.73" fill="#000" stroke="none" stroke-width="0" stroke-linejoin="miter"/>
<polygon points="412.1,1030.89 415.71,1035.08 412.25,1059.75 407.48,1063.94 403.87,1059.75 407.33,1035.08" fill="#e4e4e4" stroke="none" stroke-width="0" stroke-linejoin="miter"/>
<polygon points="417.39,993.11 421.0,997.3 417.54,1021.97 412.76,1026.17 409.16,1021.97 412.61,997.3" fill="#000" stroke="none" stroke-width="0" stroke-linejoin="miter"/>
<polygon points="414.78,1028.64 419.56,1024.45 443.76,1024.45 447.36,1028.64 442.58,1032.84 418.38,1032.84" fill="#000" stroke="none" stroke-width="0" stroke-linejoin="miter"/>
<text xml:space="preserve" transform="translate(486.2,1070.19) scale(0.815,1)" font-size="33.5">A</text>
<text xml:space="preserve" transform="translate(183.05,1004.32) scale(0.815,1)" font-size="33.5" text-anchor="end">IN</text>
<text xml:space="preserve" transform="translate(183.05,1052.25) scale(0.815,1)" font-size="33.5" text-anchor="end">COM</text>
<polyline points="332.74,1088.26 332.74,1111.87" fill="none" stroke="#000" stroke-width="3.7" stroke-linecap="butt" stroke-linejoin="round"/>
<polyline points="427.18,1088.26 427.18,1111.87" fill="none" stroke="#000" stroke-width="3.7" stroke-linecap="butt" stroke-linejoin="round"/>
<text xml:space="preserve" transform="translate(280.33,1141.97) scale(0.815,1)" font-size="33.5">+9Vp3</text>
<text xml:space="preserve" transform="translate(384.68,1141.97) scale(0.815,1)" font-size="33.5">0(9Vp3)</text>
<text xml:space="preserve" transform="translate(1466.49,893.12) scale(0.815,1)" font-size="33.5">Iist</text>
<text xml:space="preserve" transform="translate(1466.49,926.17) scale(0.815,1)" font-size="33.5">P2</text>
<text xml:space="preserve" transform="translate(1466.49,959.22) scale(0.815,1)" font-size="33.5">DPM438</text>
<rect x="1466.02" y="970.21" width="283.32" height="118.05" fill="#fff" stroke="#000" stroke-width="3.7"/>
<polygon points="1528.71,993.11 1532.32,997.3 1528.86,1021.97 1524.09,1026.17 1520.48,1021.97 1523.94,997.3" fill="#000" stroke="none" stroke-width="0" stroke-linejoin="miter"/>
<polygon points="1523.43,1030.89 1527.03,1035.08 1523.58,1059.75 1518.8,1063.94 1515.19,1059.75 1518.65,1035.08" fill="#000" stroke="none" stroke-width="0" stroke-linejoin="miter"/>
<polygon points="1488.8,1028.64 1493.57,1024.45 1517.77,1024.45 1521.38,1028.64 1516.6,1032.84 1492.4,1032.84" fill="#e4e4e4" stroke="none" stroke-width="0" stroke-linejoin="miter"/>
<polygon points="1529.65,1062.29 1538.15,1062.29 1537.03,1070.32 1528.53,1070.32" fill="#000" stroke="none" stroke-width="0" stroke-linejoin="miter"/>
<polygon points="1561.15,990.75 1565.93,986.56 1590.13,986.56 1593.74,990.75 1588.96,994.94 1564.76,994.94" fill="#000" stroke="none" stroke-width="0" stroke-linejoin="miter"/>
<polygon points="1595.77,993.11 1599.37,997.3 1595.92,1021.97 1591.14,1026.17 1587.53,1021.97 1590.99,997.3" fill="#000" stroke="none" stroke-width="0" stroke-linejoin="miter"/>
<polygon points="1590.48,1030.89 1594.08,1035.08 1590.63,1059.75 1585.85,1063.94 1582.25,1059.75 1585.7,1035.08" fill="#000" stroke="none" stroke-width="0" stroke-linejoin="miter"/>
<polygon points="1550.54,1066.54 1555.32,1062.35 1579.52,1062.35 1583.13,1066.54 1578.35,1070.73 1554.15,1070.73" fill="#000" stroke="none" stroke-width="0" stroke-linejoin="miter"/>
<polygon points="1553.17,1030.89 1556.78,1035.08 1553.32,1059.75 1548.55,1063.94 1544.94,1059.75 1548.4,1035.08" fill="#e4e4e4" stroke="none" stroke-width="0" stroke-linejoin="miter"/>
<polygon points="1558.46,993.11 1562.07,997.3 1558.61,1021.97 1553.84,1026.17 1550.23,1021.97 1553.69,997.3" fill="#000" stroke="none" stroke-width="0" stroke-linejoin="miter"/>
<polygon points="1555.85,1028.64 1560.63,1024.45 1584.83,1024.45 1588.43,1028.64 1583.65,1032.84 1559.45,1032.84" fill="#000" stroke="none" stroke-width="0" stroke-linejoin="miter"/>
<polygon points="1628.09,990.75 1632.87,986.56 1657.07,986.56 1660.67,990.75 1655.89,994.94 1631.69,994.94" fill="#000" stroke="none" stroke-width="0" stroke-linejoin="miter"/>
<polygon points="1662.7,993.11 1666.3,997.3 1662.85,1021.97 1658.07,1026.17 1654.47,1021.97 1657.92,997.3" fill="#000" stroke="none" stroke-width="0" stroke-linejoin="miter"/>
<polygon points="1657.41,1030.89 1661.02,1035.08 1657.56,1059.75 1652.78,1063.94 1649.18,1059.75 1652.63,1035.08" fill="#000" stroke="none" stroke-width="0" stroke-linejoin="miter"/>
<polygon points="1617.48,1066.54 1622.26,1062.35 1646.46,1062.35 1650.06,1066.54 1645.28,1070.73 1621.08,1070.73" fill="#000" stroke="none" stroke-width="0" stroke-linejoin="miter"/>
<polygon points="1620.11,1030.89 1623.71,1035.08 1620.26,1059.75 1615.48,1063.94 1611.88,1059.75 1615.33,1035.08" fill="#e4e4e4" stroke="none" stroke-width="0" stroke-linejoin="miter"/>
<polygon points="1625.4,993.11 1629.0,997.3 1625.55,1021.97 1620.77,1026.17 1617.17,1021.97 1620.62,997.3" fill="#000" stroke="none" stroke-width="0" stroke-linejoin="miter"/>
<polygon points="1622.78,1028.64 1627.56,1024.45 1651.76,1024.45 1655.37,1028.64 1650.59,1032.84 1626.39,1032.84" fill="#000" stroke="none" stroke-width="0" stroke-linejoin="miter"/>
<polygon points="1695.02,990.75 1699.8,986.56 1724.0,986.56 1727.6,990.75 1722.83,994.94 1698.63,994.94" fill="#000" stroke="none" stroke-width="0" stroke-linejoin="miter"/>
<polygon points="1729.64,993.11 1733.24,997.3 1729.79,1021.97 1725.01,1026.17 1721.4,1021.97 1724.86,997.3" fill="#000" stroke="none" stroke-width="0" stroke-linejoin="miter"/>
<polygon points="1724.35,1030.89 1727.95,1035.08 1724.5,1059.75 1719.72,1063.94 1716.11,1059.75 1719.57,1035.08" fill="#000" stroke="none" stroke-width="0" stroke-linejoin="miter"/>
<polygon points="1684.41,1066.54 1689.19,1062.35 1713.39,1062.35 1716.99,1066.54 1712.22,1070.73 1688.02,1070.73" fill="#000" stroke="none" stroke-width="0" stroke-linejoin="miter"/>
<polygon points="1687.04,1030.89 1690.65,1035.08 1687.19,1059.75 1682.42,1063.94 1678.81,1059.75 1682.27,1035.08" fill="#e4e4e4" stroke="none" stroke-width="0" stroke-linejoin="miter"/>
<polygon points="1692.33,993.11 1695.94,997.3 1692.48,1021.97 1687.7,1026.17 1684.1,1021.97 1687.55,997.3" fill="#000" stroke="none" stroke-width="0" stroke-linejoin="miter"/>
<polygon points="1689.72,1028.64 1694.5,1024.45 1718.7,1024.45 1722.3,1028.64 1717.52,1032.84 1693.32,1032.84" fill="#000" stroke="none" stroke-width="0" stroke-linejoin="miter"/>
<text xml:space="preserve" transform="translate(1761.14,1070.19) scale(0.815,1)" font-size="33.5">A</text>
<text xml:space="preserve" transform="translate(1589.97,893.12) scale(0.815,1)" font-size="33.5">Ia+</text>
<text xml:space="preserve" transform="translate(1667.18,893.12) scale(0.815,1)" font-size="33.5">Ia</text>
<polyline points="1691.02,881.2 1701.41,881.2" fill="none" stroke="#000" stroke-width="4.8" stroke-linecap="butt" stroke-linejoin="round"/>
<polyline points="1607.68,898.2 1607.68,970.21" fill="none" stroke="#000" stroke-width="3.7" stroke-linecap="butt" stroke-linejoin="round"/>
<polygon points="1607.68,928.89 1601.78,911.19 1613.58,911.19" fill="none" stroke="#000" stroke-width="3.7" stroke-linejoin="round"/>
<polyline points="1607.68,911.19 1607.68,928.89" fill="none" stroke="#000" stroke-width="3.7" stroke-linecap="butt" stroke-linejoin="round"/>
<polyline points="1678.51,898.2 1678.51,970.21" fill="none" stroke="#000" stroke-width="3.7" stroke-linecap="butt" stroke-linejoin="round"/>
<polygon points="1678.51,928.89 1672.61,911.19 1684.41,911.19" fill="none" stroke="#000" stroke-width="3.7" stroke-linejoin="round"/>
<polyline points="1678.51,911.19 1678.51,928.89" fill="none" stroke="#000" stroke-width="3.7" stroke-linecap="butt" stroke-linejoin="round"/>
<text xml:space="preserve" transform="translate(1613.35,958.75) scale(0.815,1)" font-size="33.5">IN</text>
<text xml:space="preserve" transform="translate(1690.08,958.75) scale(0.815,1)" font-size="33.5">COM</text>
<polyline points="1607.68,1088.26 1607.68,1111.87" fill="none" stroke="#000" stroke-width="3.7" stroke-linecap="butt" stroke-linejoin="round"/>
<polyline points="1702.12,1088.26 1702.12,1111.87" fill="none" stroke="#000" stroke-width="3.7" stroke-linecap="butt" stroke-linejoin="round"/>
<text xml:space="preserve" transform="translate(1560.7,1141.49) scale(0.815,1)" font-size="33.5">+9Vp2</text>
<text xml:space="preserve" transform="translate(1659.39,1141.49) scale(0.815,1)" font-size="33.5">0(9Vp2)</text>
<text xml:space="preserve" transform="translate(1903.51,858.88) scale(0.815,1)" font-size="33.5">S1</text>
<circle cx="1914.61" cy="887.58" r="11.1" fill="#aaa" stroke="#000" stroke-width="3.6" stroke-dasharray="3.6 3.2"/>
<text xml:space="preserve" transform="translate(1931.85,899.96) scale(0.815,1)" font-size="33.5">1</text>
<text xml:space="preserve" transform="translate(1931.85,963.24) scale(0.815,1)" font-size="33.5">2</text>
<polyline points="1961.83,899.38 1961.83,852.16 2103.49,852.16 2103.49,1206.31 2020.86,1206.31" fill="none" stroke="#000" stroke-width="3.7" stroke-linecap="butt" stroke-linejoin="round"/>
<polyline points="1971.51,875.77 1995.83,875.77" fill="none" stroke="#000" stroke-width="4.2" stroke-linecap="butt" stroke-linejoin="round"/>
<polyline points="1972.45,868.69 1972.45,878.13" fill="none" stroke="#000" stroke-width="3.7" stroke-linecap="butt" stroke-linejoin="round"/>
<polyline points="1985.44,875.77 1985.44,1003.26" fill="none" stroke="#000" stroke-width="3.7" stroke-linecap="butt" stroke-linejoin="round" stroke-dasharray="9 5"/>
<polyline points="1961.83,899.38 2009.05,922.99" fill="none" stroke="#000" stroke-width="4.6" stroke-linecap="butt" stroke-linejoin="round"/>
<polyline points="2009.05,922.99 2079.88,922.99 2079.88,1159.09 2020.86,1159.09" fill="none" stroke="#000" stroke-width="3.7" stroke-linecap="butt" stroke-linejoin="round"/>
<polyline points="1961.83,946.6 2056.27,946.6 2056.27,1111.87 2020.86,1111.87" fill="none" stroke="#000" stroke-width="3.7" stroke-linecap="butt" stroke-linejoin="round"/>
<polyline points="1961.83,993.82 1867.39,993.82 1867.39,1206.31 1950.03,1206.31" fill="none" stroke="#000" stroke-width="3.7" stroke-linecap="butt" stroke-linejoin="round"/>
<polyline points="1961.83,993.82 2009.05,1017.43" fill="none" stroke="#000" stroke-width="4.6" stroke-linecap="butt" stroke-linejoin="round"/>
<polyline points="2009.05,1017.43 2032.66,1017.43 2032.66,1064.65 1891.0,1064.65 1891.0,1159.09 1950.03,1159.09" fill="none" stroke="#000" stroke-width="3.7" stroke-linecap="butt" stroke-linejoin="round"/>
<polyline points="1961.83,1041.04 1914.61,1041.04 1914.61,1111.87 1950.03,1111.87" fill="none" stroke="#000" stroke-width="3.7" stroke-linecap="butt" stroke-linejoin="round"/>
<rect x="1938.22" y="1088.26" width="94.44" height="141.66" fill="none" stroke="#000" stroke-width="3.7"/>
<rect x="1949.32" y="1104.79" width="24.79" height="14.17" fill="#fff" stroke="#000" stroke-width="3.3"/>
<rect x="1996.54" y="1104.79" width="24.79" height="14.17" fill="#fff" stroke="#000" stroke-width="3.3"/>
<rect x="1949.32" y="1152.01" width="24.79" height="14.17" fill="#fff" stroke="#000" stroke-width="3.3"/>
<rect x="1996.54" y="1152.01" width="24.79" height="14.17" fill="#fff" stroke="#000" stroke-width="3.3"/>
<rect x="1949.32" y="1199.23" width="24.79" height="14.17" fill="#fff" stroke="#000" stroke-width="3.3"/>
<rect x="1996.54" y="1199.23" width="24.79" height="14.17" fill="#fff" stroke="#000" stroke-width="3.3"/>
<text xml:space="preserve" transform="translate(1915.08,1147.16) scale(0.815,1)" font-size="33.5">1</text>
<text xml:space="preserve" transform="translate(1915.08,1193.91) scale(0.815,1)" font-size="33.5">2</text>
<circle cx="1985.44" cy="1135.48" r="11.1" fill="#aaa" stroke="#000" stroke-width="3.6" stroke-dasharray="3.6 3.2"/>
<circle cx="1985.44" cy="1182.7" r="11.1" fill="#fff" stroke="#000" stroke-width="3.6" stroke-dasharray="3.6 3.2"/>
<text xml:space="preserve" transform="translate(1985.44,1264.97) scale(0.815,1)" font-size="33.5" text-anchor="middle">Kippschalter</text>
<text xml:space="preserve" transform="translate(1985.44,1298.81) scale(0.815,1)" font-size="33.5" text-anchor="middle">MS-500</text>
<text xml:space="preserve" transform="translate(1985.44,1332.64) scale(0.815,1)" font-size="33.5" text-anchor="middle">ON-ON</text>
<text xml:space="preserve" transform="translate(1985.44,1366.47) scale(0.815,1)" font-size="33.5" text-anchor="middle">6A, 125V AC</text>
<rect x="25.81" y="1159.09" width="519.42" height="543.03" fill="none" stroke="#000" stroke-width="3.9" stroke-dasharray="6.7 4.0"/>
<text xml:space="preserve" transform="translate(49.89,1211.1) scale(0.86,1)" font-size="44">SQ1</text>
<polyline points="261.91,1159.09 261.91,1432.97" fill="none" stroke="#000" stroke-width="3.7" stroke-linecap="butt" stroke-linejoin="round"/>
<polyline points="261.91,1499.07 261.91,1702.12" fill="none" stroke="#000" stroke-width="3.7" stroke-linecap="butt" stroke-linejoin="round"/>
<circle cx="261.91" cy="1182.7" r="7.08" fill="#000"/>
<text xml:space="preserve" transform="translate(197.45,1193.91) scale(0.815,1)" font-size="33.5">+9V</text>
<polyline points="427.18,1182.7 427.18,1418.8 391.76,1453.03" fill="none" stroke="#000" stroke-width="3.7" stroke-linecap="butt" stroke-linejoin="round"/>
<rect x="415.38" y="1206.31" width="23.61" height="70.83" fill="#fff" stroke="#000" stroke-width="3.7"/>
<rect x="415.38" y="1300.75" width="23.61" height="70.83" fill="#fff" stroke="#000" stroke-width="3.7"/>
<circle cx="427.18" cy="1395.19" r="7.08" fill="#000"/>
<polyline points="261.91,1182.7 462.59,1182.7 462.59,1206.31 398.85,1270.06" fill="none" stroke="#000" stroke-width="3.7" stroke-linecap="butt" stroke-linejoin="round"/>
<polyline points="392.84,1264.05 404.86,1276.07" fill="none" stroke="#000" stroke-width="3.7" stroke-linecap="butt" stroke-linejoin="round"/>
<circle cx="427.18" cy="1182.7" r="7.08" fill="#000"/>
<text xml:space="preserve" transform="translate(391.29,1223.18) scale(0.815,1)" font-size="33.5">a</text>
<text xml:space="preserve" transform="translate(450.79,1252.46) scale(0.815,1)" font-size="33.5">VR1q1</text>
<text xml:space="preserve" transform="translate(450.79,1285.51) scale(0.815,1)" font-size="33.5">470</text>
<text xml:space="preserve" transform="translate(450.79,1323.29) scale(0.815,1)" font-size="33.5">R1q1</text>
<text xml:space="preserve" transform="translate(450.79,1356.82) scale(0.815,1)" font-size="33.5">1k</text>
<text xml:space="preserve" transform="translate(274.42,1265.21) scale(0.815,1)" font-size="33.5">IC1q</text>
<text xml:space="preserve" transform="translate(274.42,1299.21) scale(0.815,1)" font-size="33.5">LM324</text>
<text xml:space="preserve" transform="translate(125.68,1265.21) scale(0.815,1)" font-size="33.5" text-anchor="middle">IC1</text>
<text xml:space="preserve" transform="translate(125.68,1299.21) scale(0.815,1)" font-size="33.5" text-anchor="middle">LM336</text>
<text xml:space="preserve" transform="translate(125.68,1332.26) scale(0.815,1)" font-size="33.5" text-anchor="middle">-2.5</text>
<circle cx="261.91" cy="1347.97" r="7.08" fill="#000"/>
<polyline points="261.91,1347.97 279.62,1347.97" fill="none" stroke="#000" stroke-width="3.7" stroke-linecap="butt" stroke-linejoin="round"/>
<polyline points="279.62,1324.36 279.62,1371.58" fill="none" stroke="#000" stroke-width="3.7" stroke-linecap="butt" stroke-linejoin="round"/>
<polyline points="291.42,1324.36 291.42,1371.58" fill="none" stroke="#000" stroke-width="3.7" stroke-linecap="butt" stroke-linejoin="round"/>
<polyline points="291.42,1347.97 309.13,1347.97" fill="none" stroke="#000" stroke-width="3.7" stroke-linecap="butt" stroke-linejoin="round"/>
<polyline points="309.13,1331.44 309.13,1364.5" fill="none" stroke="#000" stroke-width="3.7" stroke-linecap="butt" stroke-linejoin="round"/>
<text xml:space="preserve" transform="translate(321.17,1347.85) scale(0.815,1)" font-size="33.5">C1q1</text>
<text xml:space="preserve" transform="translate(321.17,1381.61) scale(0.815,1)" font-size="33.5">100n</text>
<polyline points="261.91,1347.97 120.25,1347.97 120.25,1489.63" fill="none" stroke="#000" stroke-width="3.7" stroke-linecap="butt" stroke-linejoin="round"/>
<polygon points="120.25,1395.19 102.54,1430.61 137.96,1430.61" fill="none" stroke="#000" stroke-width="3.7" stroke-linejoin="miter"/>
<polyline points="103.72,1390.47 107.97,1395.19 132.53,1395.19 136.78,1399.91" fill="none" stroke="#000" stroke-width="3.7" stroke-linecap="butt" stroke-linejoin="miter"/>
<polyline points="25.81,1489.63 238.3,1489.63" fill="none" stroke="#000" stroke-width="3.7" stroke-linecap="butt" stroke-linejoin="round"/>
<polygon points="37.62,1489.63 55.32,1483.73 55.32,1495.53" fill="none" stroke="#000" stroke-width="3.7" stroke-linejoin="round"/>
<polyline points="55.32,1489.63 37.62,1489.63" fill="none" stroke="#000" stroke-width="3.7" stroke-linecap="butt" stroke-linejoin="round"/>
<circle cx="120.25" cy="1489.63" r="7.08" fill="#000"/>
<circle cx="191.08" cy="1489.63" r="7.08" fill="#000"/>
<text xml:space="preserve" transform="translate(38.09,1478.17) scale(0.815,1)" font-size="33.5">Uref1</text>
<polyline points="120.25,1489.63 120.25,1607.68" fill="none" stroke="#000" stroke-width="3.7" stroke-linecap="butt" stroke-linejoin="round"/>
<rect x="108.45" y="1513.24" width="23.61" height="70.83" fill="#fff" stroke="#000" stroke-width="3.7"/>
<polyline points="102.54,1607.68 137.96,1607.68" fill="none" stroke="#000" stroke-width="3.7" stroke-linecap="butt" stroke-linejoin="round"/>
<text xml:space="preserve" transform="translate(94.52,1643.68) scale(0.815,1)" font-size="33.5">R3q1</text>
<text xml:space="preserve" transform="translate(100.42,1676.97) scale(0.815,1)" font-size="33.5">6,5k</text>
<polyline points="191.08,1489.63 191.08,1506.16" fill="none" stroke="#000" stroke-width="3.7" stroke-linecap="butt" stroke-linejoin="round"/>
<polyline points="167.47,1506.16 214.69,1506.16" fill="none" stroke="#000" stroke-width="3.7" stroke-linecap="butt" stroke-linejoin="round"/>
<polyline points="167.47,1517.96 214.69,1517.96" fill="none" stroke="#000" stroke-width="3.7" stroke-linecap="butt" stroke-linejoin="round"/>
<polyline points="191.08,1517.96 191.08,1536.85" fill="none" stroke="#000" stroke-width="3.7" stroke-linecap="butt" stroke-linejoin="round"/>
<polyline points="173.37,1536.85 208.79,1536.85" fill="none" stroke="#000" stroke-width="3.7" stroke-linecap="butt" stroke-linejoin="round"/>
<text xml:space="preserve" transform="translate(158.97,1571.67) scale(0.815,1)" font-size="33.5">C3q1</text>
<text xml:space="preserve" transform="translate(160.86,1605.67) scale(0.815,1)" font-size="33.5">100n</text>
<polygon points="238.3,1418.8 238.3,1513.24 332.74,1466.02" fill="#fff" stroke="#000" stroke-width="3.7" stroke-linejoin="miter"/>
<polyline points="244.91,1442.41 255.3,1442.41" fill="none" stroke="#000" stroke-width="3.5" stroke-linecap="butt" stroke-linejoin="round"/>
<polyline points="244.44,1489.63 255.77,1489.63" fill="none" stroke="#000" stroke-width="3.5" stroke-linecap="butt" stroke-linejoin="round"/>
<polyline points="250.1,1483.96 250.1,1495.3" fill="none" stroke="#000" stroke-width="3.5" stroke-linecap="butt" stroke-linejoin="round"/>
<text xml:space="preserve" transform="translate(267.81,1478.17) scale(0.815,1)" font-size="33.5">A</text>
<text xml:space="preserve" transform="translate(207.13,1435.44) scale(0.815,1)" font-size="33">2</text>
<text xml:space="preserve" transform="translate(207.13,1484.07) scale(0.815,1)" font-size="33">3</text>
<text xml:space="preserve" transform="translate(267.81,1431.42) scale(0.815,1)" font-size="33">4</text>
<text xml:space="preserve" transform="translate(344.54,1460.7) scale(0.815,1)" font-size="33">1</text>
<text xml:space="preserve" transform="translate(268.76,1526.1) scale(0.815,1)" font-size="33">11</text>
<polyline points="427.18,1395.19 191.08,1395.19 191.08,1442.41 238.3,1442.41" fill="none" stroke="#000" stroke-width="3.7" stroke-linecap="butt" stroke-linejoin="round"/>
<polyline points="332.74,1466.02 391.76,1466.02" fill="none" stroke="#000" stroke-width="3.7" stroke-linecap="butt" stroke-linejoin="round"/>
<polyline points="391.76,1442.41 391.76,1489.63" fill="none" stroke="#000" stroke-width="4.1" stroke-linecap="butt" stroke-linejoin="round"/>
<polyline points="391.76,1453.03 427.18,1418.8" fill="none" stroke="#000" stroke-width="3.7" stroke-linecap="butt" stroke-linejoin="round"/>
<polyline points="391.76,1479.01 427.18,1513.24" fill="none" stroke="#000" stroke-width="3.7" stroke-linecap="butt" stroke-linejoin="round"/>
<polygon points="396.96,1447.6 414.19,1441.94 403.57,1430.61" fill="#000" stroke="#000" stroke-width="1" stroke-linejoin="miter"/>
<polyline points="427.18,1513.24 427.18,1702.12" fill="none" stroke="#000" stroke-width="3.7" stroke-linecap="butt" stroke-linejoin="round"/>
<rect x="415.38" y="1536.85" width="23.61" height="70.83" fill="#fff" stroke="#000" stroke-width="3.7"/>
<text xml:space="preserve" transform="translate(421.75,1460.7) scale(0.815,1)" font-size="33.5">Q1q1</text>
<text xml:space="preserve" transform="translate(421.75,1493.75) scale(0.815,1)" font-size="33.5">SA1015</text>
<text xml:space="preserve" transform="translate(450.79,1560.1) scale(0.815,1)" font-size="33.5">R2q1</text>
<text xml:space="preserve" transform="translate(450.79,1593.15) scale(0.815,1)" font-size="33.5">100</text>
<polyline points="421.51,1642.15 432.85,1653.48" fill="none" stroke="#000" stroke-width="3.5" stroke-linecap="butt" stroke-linejoin="round"/>
<polyline points="421.51,1653.48 432.85,1642.15" fill="none" stroke="#000" stroke-width="3.5" stroke-linecap="butt" stroke-linejoin="round"/>
<polyline points="445.12,1624.21 445.12,1656.32" fill="none" stroke="#000" stroke-width="3.4" stroke-linecap="butt" stroke-linejoin="round"/>
<polygon points="445.12,1671.43 439.58,1652.54 450.67,1652.54" fill="#000" stroke="#000" stroke-width="0.5" stroke-linejoin="miter"/>
<text xml:space="preserve" transform="translate(457.64,1649.58) scale(0.815,1)" font-size="33.5">Icq1</text>
<text xml:space="preserve" transform="translate(457.64,1682.63) scale(0.815,1)" font-size="33.5">1,0mA</text>
<circle cx="261.91" cy="1560.46" r="7.08" fill="#000"/>
<polyline points="261.91,1560.46 279.62,1560.46" fill="none" stroke="#000" stroke-width="3.7" stroke-linecap="butt" stroke-linejoin="round"/>
<polyline points="279.62,1536.85 279.62,1584.07" fill="none" stroke="#000" stroke-width="3.7" stroke-linecap="butt" stroke-linejoin="round"/>
<polyline points="291.42,1536.85 291.42,1584.07" fill="none" stroke="#000" stroke-width="3.7" stroke-linecap="butt" stroke-linejoin="round"/>
<polyline points="291.42,1560.46 309.13,1560.46" fill="none" stroke="#000" stroke-width="3.7" stroke-linecap="butt" stroke-linejoin="round"/>
<polyline points="309.13,1543.93 309.13,1576.99" fill="none" stroke="#000" stroke-width="3.7" stroke-linecap="butt" stroke-linejoin="round"/>
<text xml:space="preserve" transform="translate(321.17,1560.1) scale(0.815,1)" font-size="33.5">C2q1</text>
<text xml:space="preserve" transform="translate(321.17,1593.15) scale(0.815,1)" font-size="33.5">100n</text>
<polyline points="203.36,1676.73 214.45,1676.73" fill="none" stroke="#000" stroke-width="4.8" stroke-linecap="butt" stroke-linejoin="round"/>
<text transform="translate(217.52,1688.54) scale(0.815,1)" font-size="33.5">9V</text>
<rect x="568.84" y="1159.09" width="472.2" height="543.03" fill="none" stroke="#000" stroke-width="3.9" stroke-dasharray="6.7 4.0"/>
<text xml:space="preserve" transform="translate(581.35,1211.1) scale(0.86,1)" font-size="44">SQ2</text>
<polyline points="568.84,1489.63 734.11,1489.63" fill="none" stroke="#000" stroke-width="3.7" stroke-linecap="butt" stroke-linejoin="round"/>
<polygon points="604.25,1489.63 586.55,1483.73 586.55,1495.53" fill="none" stroke="#000" stroke-width="3.7" stroke-linejoin="round"/>
<polyline points="586.55,1489.63 604.25,1489.63" fill="none" stroke="#000" stroke-width="3.7" stroke-linecap="butt" stroke-linejoin="round"/>
<text xml:space="preserve" transform="translate(598.82,1478.17) scale(0.815,1)" font-size="33.5">Uref1</text>
<polygon points="734.11,1418.8 734.11,1513.24 828.55,1466.02" fill="#fff" stroke="#000" stroke-width="3.7" stroke-linejoin="miter"/>
<polyline points="740.72,1442.41 751.11,1442.41" fill="none" stroke="#000" stroke-width="3.5" stroke-linecap="butt" stroke-linejoin="round"/>
<polyline points="740.25,1489.63 751.58,1489.63" fill="none" stroke="#000" stroke-width="3.5" stroke-linecap="butt" stroke-linejoin="round"/>
<polyline points="745.92,1483.96 745.92,1495.3" fill="none" stroke="#000" stroke-width="3.5" stroke-linecap="butt" stroke-linejoin="round"/>
<text xml:space="preserve" transform="translate(763.62,1478.17) scale(0.815,1)" font-size="33.5">B</text>
<text xml:space="preserve" transform="translate(703.42,1435.44) scale(0.815,1)" font-size="33">6</text>
<text xml:space="preserve" transform="translate(703.42,1484.07) scale(0.815,1)" font-size="33">5</text>
<text xml:space="preserve" transform="translate(838.47,1460.7) scale(0.815,1)" font-size="33">7</text>
<polyline points="922.99,1395.19 686.89,1395.19 686.89,1442.41 734.11,1442.41" fill="none" stroke="#000" stroke-width="3.7" stroke-linecap="butt" stroke-linejoin="round"/>
<polyline points="922.99,1159.09 922.99,1418.8 887.58,1453.03" fill="none" stroke="#000" stroke-width="3.7" stroke-linecap="butt" stroke-linejoin="round"/>
<circle cx="922.99" cy="1182.7" r="7.08" fill="#000"/>
<text xml:space="preserve" transform="translate(846.26,1193.91) scale(0.815,1)" font-size="33.5">+9V</text>
<rect x="911.19" y="1206.31" width="23.61" height="70.83" fill="#fff" stroke="#000" stroke-width="3.7"/>
<rect x="911.19" y="1300.75" width="23.61" height="70.83" fill="#fff" stroke="#000" stroke-width="3.7"/>
<circle cx="922.99" cy="1395.19" r="7.08" fill="#000"/>
<polyline points="922.99,1182.7 958.4,1182.7 958.4,1206.31 894.66,1270.06" fill="none" stroke="#000" stroke-width="3.7" stroke-linecap="butt" stroke-linejoin="round"/>
<polyline points="888.65,1264.05 900.67,1276.07" fill="none" stroke="#000" stroke-width="3.7" stroke-linecap="butt" stroke-linejoin="round"/>
<text xml:space="preserve" transform="translate(887.81,1223.18) scale(0.815,1)" font-size="33.5">a</text>
<text xml:space="preserve" transform="translate(946.6,1252.46) scale(0.815,1)" font-size="33.5">VR1q2</text>
<text xml:space="preserve" transform="translate(946.6,1285.51) scale(0.815,1)" font-size="33.5">470</text>
<text xml:space="preserve" transform="translate(946.6,1323.29) scale(0.815,1)" font-size="33.5">R1q2</text>
<text xml:space="preserve" transform="translate(946.6,1356.82) scale(0.815,1)" font-size="33.5">1k</text>
<polyline points="828.55,1466.02 887.58,1466.02" fill="none" stroke="#000" stroke-width="3.7" stroke-linecap="butt" stroke-linejoin="round"/>
<polyline points="887.58,1442.41 887.58,1489.63" fill="none" stroke="#000" stroke-width="4.1" stroke-linecap="butt" stroke-linejoin="round"/>
<polyline points="887.58,1453.03 922.99,1418.8" fill="none" stroke="#000" stroke-width="3.7" stroke-linecap="butt" stroke-linejoin="round"/>
<polyline points="887.58,1479.01 922.99,1513.24" fill="none" stroke="#000" stroke-width="3.7" stroke-linecap="butt" stroke-linejoin="round"/>
<polygon points="892.77,1447.6 910.0,1441.94 899.38,1430.61" fill="#000" stroke="#000" stroke-width="1" stroke-linejoin="miter"/>
<polyline points="922.99,1513.24 922.99,1702.12" fill="none" stroke="#000" stroke-width="3.7" stroke-linecap="butt" stroke-linejoin="round"/>
<rect x="911.19" y="1536.85" width="23.61" height="70.83" fill="#fff" stroke="#000" stroke-width="3.7"/>
<text xml:space="preserve" transform="translate(917.56,1460.7) scale(0.815,1)" font-size="33.5">Q1q2</text>
<text xml:space="preserve" transform="translate(917.56,1493.75) scale(0.815,1)" font-size="33.5">SA1015</text>
<text xml:space="preserve" transform="translate(946.6,1560.1) scale(0.815,1)" font-size="33.5">R2q2</text>
<text xml:space="preserve" transform="translate(946.6,1593.15) scale(0.815,1)" font-size="33.5">100</text>
<polyline points="917.32,1642.15 928.66,1653.48" fill="none" stroke="#000" stroke-width="3.5" stroke-linecap="butt" stroke-linejoin="round"/>
<polyline points="917.32,1653.48 928.66,1642.15" fill="none" stroke="#000" stroke-width="3.5" stroke-linecap="butt" stroke-linejoin="round"/>
<polyline points="940.7,1624.21 940.7,1656.32" fill="none" stroke="#000" stroke-width="3.4" stroke-linecap="butt" stroke-linejoin="round"/>
<polygon points="940.7,1671.43 935.15,1652.54 946.25,1652.54" fill="#000" stroke="#000" stroke-width="0.5" stroke-linejoin="miter"/>
<text xml:space="preserve" transform="translate(952.5,1649.58) scale(0.815,1)" font-size="33.5">Icq2</text>
<text xml:space="preserve" transform="translate(952.5,1682.63) scale(0.815,1)" font-size="33.5">2,0mA</text>
<rect x="1064.65" y="1159.09" width="543.03" height="543.03" fill="none" stroke="#000" stroke-width="3.9" stroke-dasharray="6.7 4.0"/>
<text xml:space="preserve" transform="translate(1083.07,1211.1) scale(0.86,1)" font-size="44">SQ3</text>
<polyline points="1111.87,1300.75 1111.87,1277.14 1159.09,1277.14 1159.09,1300.75" fill="none" stroke="#000" stroke-width="3.7" stroke-linecap="butt" stroke-linejoin="round"/>
<polyline points="1141.38,1300.75 1176.8,1300.75" fill="none" stroke="#000" stroke-width="3.7" stroke-linecap="butt" stroke-linejoin="round"/>
<rect x="1100.07" y="1300.75" width="23.61" height="70.83" fill="#fff" stroke="#000" stroke-width="3.7"/>
<text xml:space="preserve" transform="translate(1168.3,1253.64) scale(0.815,1)" font-size="33.5">R3q3</text>
<text xml:space="preserve" transform="translate(1174.44,1287.4) scale(0.815,1)" font-size="33.5">6,5k</text>
<polyline points="1111.87,1371.58 1111.87,1466.02" fill="none" stroke="#000" stroke-width="3.7" stroke-linecap="butt" stroke-linejoin="round"/>
<circle cx="1111.87" cy="1418.8" r="7.08" fill="#000"/>
<polyline points="1111.87,1418.8 1277.14,1418.8" fill="none" stroke="#000" stroke-width="3.7" stroke-linecap="butt" stroke-linejoin="round"/>
<circle cx="1182.7" cy="1418.8" r="7.08" fill="#000"/>
<text xml:space="preserve" transform="translate(1124.62,1407.34) scale(0.815,1)" font-size="33.5">Uref2</text>
<polyline points="1182.7,1418.8 1182.7,1435.33" fill="none" stroke="#000" stroke-width="3.7" stroke-linecap="butt" stroke-linejoin="round"/>
<polyline points="1159.09,1435.33 1206.31,1435.33" fill="none" stroke="#000" stroke-width="3.7" stroke-linecap="butt" stroke-linejoin="round"/>
<polyline points="1159.09,1447.13 1206.31,1447.13" fill="none" stroke="#000" stroke-width="3.7" stroke-linecap="butt" stroke-linejoin="round"/>
<polyline points="1182.7,1447.13 1182.7,1466.02" fill="none" stroke="#000" stroke-width="3.7" stroke-linecap="butt" stroke-linejoin="round"/>
<polyline points="1164.99,1466.02 1200.41,1466.02" fill="none" stroke="#000" stroke-width="3.7" stroke-linecap="butt" stroke-linejoin="round"/>
<text xml:space="preserve" transform="translate(1149.88,1499.66) scale(0.815,1)" font-size="33.5">C3q3</text>
<text xml:space="preserve" transform="translate(1152.72,1533.66) scale(0.815,1)" font-size="33.5">100n</text>
<polygon points="1111.87,1466.02 1094.16,1501.43 1129.58,1501.43" fill="none" stroke="#000" stroke-width="3.7" stroke-linejoin="miter"/>
<polyline points="1095.34,1461.3 1099.59,1466.02 1124.15,1466.02 1128.4,1470.74" fill="none" stroke="#000" stroke-width="3.7" stroke-linecap="butt" stroke-linejoin="miter"/>
<polyline points="1111.87,1466.02 1111.87,1560.46 1300.75,1560.46 1300.75,1702.12" fill="none" stroke="#000" stroke-width="3.7" stroke-linecap="butt" stroke-linejoin="round"/>
<circle cx="1300.75" cy="1678.51" r="7.08" fill="#000"/>
<polyline points="1243.38,1676.73 1254.47,1676.73" fill="none" stroke="#000" stroke-width="4.8" stroke-linecap="butt" stroke-linejoin="round"/>
<text transform="translate(1257.54,1688.54) scale(0.815,1)" font-size="33.5">9V</text>
<text xml:space="preserve" transform="translate(1123.44,1600.94) scale(0.815,1)" font-size="33.5" text-anchor="middle">IC1</text>
<text xml:space="preserve" transform="translate(1123.44,1634.0) scale(0.815,1)" font-size="33.5" text-anchor="middle">LM336</text>
<text xml:space="preserve" transform="translate(1123.44,1668.0) scale(0.815,1)" font-size="33.5" text-anchor="middle">-2.5</text>
<polygon points="1277.14,1347.97 1277.14,1442.41 1371.58,1395.19" fill="#fff" stroke="#000" stroke-width="3.7" stroke-linejoin="miter"/>
<polyline points="1283.75,1371.58 1294.14,1371.58" fill="none" stroke="#000" stroke-width="3.5" stroke-linecap="butt" stroke-linejoin="round"/>
<polyline points="1283.28,1418.8 1294.61,1418.8" fill="none" stroke="#000" stroke-width="3.5" stroke-linecap="butt" stroke-linejoin="round"/>
<polyline points="1288.94,1413.13 1288.94,1424.47" fill="none" stroke="#000" stroke-width="3.5" stroke-linecap="butt" stroke-linejoin="round"/>
<text xml:space="preserve" transform="translate(1306.65,1407.34) scale(0.815,1)" font-size="33.5">C</text>
<text xml:space="preserve" transform="translate(1245.27,1365.32) scale(0.815,1)" font-size="33">9</text>
<text xml:space="preserve" transform="translate(1239.36,1412.77) scale(0.815,1)" font-size="33">10</text>
<text xml:space="preserve" transform="translate(1381.73,1388.69) scale(0.815,1)" font-size="33">8</text>
<polyline points="1277.14,1371.58 1229.92,1371.58 1229.92,1466.02 1466.02,1466.02" fill="none" stroke="#000" stroke-width="3.7" stroke-linecap="butt" stroke-linejoin="round"/>
<polyline points="1371.58,1395.19 1430.61,1395.19" fill="none" stroke="#000" stroke-width="3.7" stroke-linecap="butt" stroke-linejoin="round"/>
<polyline points="1430.61,1371.58 1430.61,1418.8" fill="none" stroke="#000" stroke-width="4.1" stroke-linecap="butt" stroke-linejoin="round"/>
<polyline points="1430.61,1382.2 1466.02,1347.97" fill="none" stroke="#000" stroke-width="3.7" stroke-linecap="butt" stroke-linejoin="round"/>
<polyline points="1430.61,1408.18 1466.02,1442.41" fill="none" stroke="#000" stroke-width="3.7" stroke-linecap="butt" stroke-linejoin="round"/>
<polygon points="1455.4,1432.26 1438.87,1427.06 1449.49,1415.97" fill="#000" stroke="#000" stroke-width="1" stroke-linejoin="miter"/>
<polyline points="1466.02,1159.09 1466.02,1347.97" fill="none" stroke="#000" stroke-width="3.7" stroke-linecap="butt" stroke-linejoin="round"/>
<rect x="1454.21" y="1253.53" width="23.61" height="70.83" fill="#fff" stroke="#000" stroke-width="3.7"/>
<polyline points="1460.35,1200.64 1471.69,1211.98" fill="none" stroke="#000" stroke-width="3.5" stroke-linecap="butt" stroke-linejoin="round"/>
<polyline points="1460.35,1211.98 1471.69,1200.64" fill="none" stroke="#000" stroke-width="3.5" stroke-linecap="butt" stroke-linejoin="round"/>
<polyline points="1483.73,1176.8 1483.73,1207.73" fill="none" stroke="#000" stroke-width="3.4" stroke-linecap="butt" stroke-linejoin="round"/>
<polygon points="1483.73,1222.84 1478.18,1203.95 1489.28,1203.95" fill="#000" stroke="#000" stroke-width="0.5" stroke-linejoin="miter"/>
<text xml:space="preserve" transform="translate(1495.3,1199.81) scale(0.815,1)" font-size="33.5">Icq3</text>
<text xml:space="preserve" transform="translate(1495.3,1234.99) scale(0.815,1)" font-size="33.5">2,0mA</text>
<text xml:space="preserve" transform="translate(1489.63,1277.72) scale(0.815,1)" font-size="33.5">R2q3</text>
<text xml:space="preserve" transform="translate(1489.63,1310.78) scale(0.815,1)" font-size="33.5">100</text>
<text xml:space="preserve" transform="translate(1460.59,1388.69) scale(0.815,1)" font-size="33.5">Q1q3</text>
<text xml:space="preserve" transform="translate(1460.59,1422.69) scale(0.815,1)" font-size="33.5">SC945</text>
<polyline points="1466.02,1442.41 1466.02,1678.51" fill="none" stroke="#000" stroke-width="3.7" stroke-linecap="butt" stroke-linejoin="round"/>
<circle cx="1466.02" cy="1466.02" r="7.08" fill="#000"/>
<rect x="1454.21" y="1489.63" width="23.61" height="70.83" fill="#fff" stroke="#000" stroke-width="3.7"/>
<rect x="1454.21" y="1584.07" width="23.61" height="70.83" fill="#fff" stroke="#000" stroke-width="3.7"/>
<circle cx="1466.02" cy="1678.51" r="7.08" fill="#000"/>
<text xml:space="preserve" transform="translate(1489.63,1514.06) scale(0.815,1)" font-size="33.5">R1q3</text>
<text xml:space="preserve" transform="translate(1489.63,1547.11) scale(0.815,1)" font-size="33.5">1k</text>
<text xml:space="preserve" transform="translate(1489.63,1595.04) scale(0.815,1)" font-size="33.5">VR1q3</text>
<text xml:space="preserve" transform="translate(1489.63,1629.04) scale(0.815,1)" font-size="33.5">470</text>
<polyline points="1300.75,1678.51 1501.43,1678.51 1501.43,1654.9 1436.51,1589.97" fill="none" stroke="#000" stroke-width="3.7" stroke-linecap="butt" stroke-linejoin="round"/>
<polyline points="1442.52,1583.96 1430.5,1595.98" fill="none" stroke="#000" stroke-width="3.7" stroke-linecap="butt" stroke-linejoin="round"/>
<text xml:space="preserve" transform="translate(1428.24,1654.54) scale(0.815,1)" font-size="33.5">a</text>
<rect x="1654.9" y="1395.19" width="472.2" height="519.42" fill="none" stroke="#000" stroke-width="3.9" stroke-dasharray="6.7 4.0"/>
<text xml:space="preserve" transform="translate(1993.0,1439.64) scale(0.86,1)" font-size="44">CV/CC</text>
<polyline points="1654.9,1513.24 1820.17,1513.24" fill="none" stroke="#000" stroke-width="3.7" stroke-linecap="butt" stroke-linejoin="round"/>
<polygon points="1685.59,1513.24 1667.89,1507.34 1667.89,1519.14" fill="none" stroke="#000" stroke-width="3.7" stroke-linejoin="round"/>
<polyline points="1667.89,1513.24 1685.59,1513.24" fill="none" stroke="#000" stroke-width="3.7" stroke-linecap="butt" stroke-linejoin="round"/>
<rect x="1696.22" y="1501.43" width="70.83" height="23.61" fill="#fff" stroke="#000" stroke-width="3.7"/>
<polyline points="1654.9,1560.46 1820.17,1560.46" fill="none" stroke="#000" stroke-width="3.7" stroke-linecap="butt" stroke-linejoin="round"/>
<polygon points="1685.59,1560.46 1667.89,1554.56 1667.89,1566.36" fill="none" stroke="#000" stroke-width="3.7" stroke-linejoin="round"/>
<polyline points="1667.89,1560.46 1685.59,1560.46" fill="none" stroke="#000" stroke-width="3.7" stroke-linecap="butt" stroke-linejoin="round"/>
<rect x="1696.22" y="1548.65" width="70.83" height="23.61" fill="#fff" stroke="#000" stroke-width="3.7"/>
<text xml:space="preserve" transform="translate(1708.73,1454.09) scale(0.815,1)" font-size="33.5">R1</text>
<text xml:space="preserve" transform="translate(1703.77,1488.09) scale(0.815,1)" font-size="33.5">10k</text>
<text xml:space="preserve" transform="translate(1714.63,1608.03) scale(0.815,1)" font-size="33.5">R2</text>
<text xml:space="preserve" transform="translate(1709.44,1641.08) scale(0.815,1)" font-size="33.5">10k</text>
<polygon points="1820.17,1489.63 1820.17,1584.07 1914.61,1536.85" fill="#fff" stroke="#000" stroke-width="3.7" stroke-linejoin="miter"/>
<polyline points="1826.78,1513.24 1837.17,1513.24" fill="none" stroke="#000" stroke-width="3.5" stroke-linecap="butt" stroke-linejoin="round"/>
<polyline points="1826.31,1560.46 1837.64,1560.46" fill="none" stroke="#000" stroke-width="3.5" stroke-linecap="butt" stroke-linejoin="round"/>
<polyline points="1831.97,1554.79 1831.97,1566.13" fill="none" stroke="#000" stroke-width="3.5" stroke-linecap="butt" stroke-linejoin="round"/>
<text xml:space="preserve" transform="translate(1849.68,1549.0) scale(0.815,1)" font-size="33.5">D</text>
<text xml:space="preserve" transform="translate(1781.45,1506.74) scale(0.815,1)" font-size="33">13</text>
<text xml:space="preserve" transform="translate(1781.45,1554.2) scale(0.815,1)" font-size="33">12</text>
<text xml:space="preserve" transform="translate(1916.97,1530.82) scale(0.815,1)" font-size="33">14</text>
<polyline points="1914.61,1536.85 2056.27,1536.85 2056.27,1772.95" fill="none" stroke="#000" stroke-width="3.7" stroke-linecap="butt" stroke-linejoin="round"/>
<rect x="1961.83" y="1525.05" width="70.83" height="23.61" fill="#fff" stroke="#000" stroke-width="3.7"/>
<text xml:space="preserve" transform="translate(1980.25,1478.17) scale(0.815,1)" font-size="33.5">R3</text>
<text xml:space="preserve" transform="translate(1983.08,1510.52) scale(0.815,1)" font-size="33.5">1k</text>
<circle cx="2056.27" cy="1607.68" r="7.08" fill="#000"/>
<polyline points="2056.27,1607.68 1985.44,1607.68 1985.44,1843.78" fill="none" stroke="#000" stroke-width="3.7" stroke-linecap="butt" stroke-linejoin="round"/>
<polygon points="1985.44,1672.61 1967.73,1637.19 2003.15,1637.19" fill="none" stroke="#000" stroke-width="3.7" stroke-linejoin="miter"/>
<polyline points="1967.73,1672.61 2003.15,1672.61" fill="none" stroke="#000" stroke-width="3.7" stroke-linecap="butt" stroke-linejoin="round"/>
<polygon points="2056.27,1637.19 2038.56,1672.61 2073.98,1672.61" fill="none" stroke="#000" stroke-width="3.7" stroke-linejoin="miter"/>
<polyline points="2038.56,1637.19 2073.98,1637.19" fill="none" stroke="#000" stroke-width="3.7" stroke-linecap="butt" stroke-linejoin="round"/>
<text xml:space="preserve" transform="translate(1926.89,1667.05) scale(0.815,1)" font-size="33.5">D1</text>
<text xml:space="preserve" transform="translate(2080.59,1667.05) scale(0.815,1)" font-size="33.5">D2</text>
<polygon points="1985.44,1772.95 1967.73,1737.54 2003.15,1737.54" fill="none" stroke="#000" stroke-width="3.7" stroke-linejoin="miter"/>
<polyline points="1967.73,1772.95 2003.15,1772.95" fill="none" stroke="#000" stroke-width="3.7" stroke-linecap="butt" stroke-linejoin="round"/>
<polygon points="2056.27,1737.54 2038.56,1772.95 2073.98,1772.95" fill="none" stroke="#000" stroke-width="3.7" stroke-linejoin="miter"/>
<polyline points="2038.56,1737.54 2073.98,1737.54" fill="none" stroke="#000" stroke-width="3.7" stroke-linecap="butt" stroke-linejoin="round"/>
<polyline points="2003.15,1746.98 2019.54,1732.26" fill="none" stroke="#000" stroke-width="3.4" stroke-linecap="butt" stroke-linejoin="round"/>
<polygon points="2026.29,1726.2 2020.53,1736.76 2015.17,1730.79" fill="#000" stroke="#000" stroke-width="0.5" stroke-linejoin="miter"/>
<polyline points="2003.15,1758.78 2019.54,1744.06" fill="none" stroke="#000" stroke-width="3.4" stroke-linecap="butt" stroke-linejoin="round"/>
<polygon points="2026.29,1738.01 2020.53,1748.57 2015.17,1742.59" fill="#000" stroke="#000" stroke-width="0.5" stroke-linejoin="miter"/>
<polyline points="2073.98,1746.98 2090.37,1732.26" fill="none" stroke="#000" stroke-width="3.4" stroke-linecap="butt" stroke-linejoin="round"/>
<polygon points="2097.12,1726.2 2091.36,1736.76 2086.0,1730.79" fill="#000" stroke="#000" stroke-width="0.5" stroke-linejoin="miter"/>
<polyline points="2073.98,1758.78 2090.37,1744.06" fill="none" stroke="#000" stroke-width="3.4" stroke-linecap="butt" stroke-linejoin="round"/>
<polygon points="2097.12,1738.01 2091.36,1748.57 2086.0,1742.59" fill="#000" stroke="#000" stroke-width="0.5" stroke-linejoin="miter"/>
<polyline points="2056.27,1772.95 2056.27,1796.56 1985.44,1796.56" fill="none" stroke="#000" stroke-width="3.7" stroke-linecap="butt" stroke-linejoin="round"/>
<circle cx="1985.44" cy="1796.56" r="7.08" fill="#000"/>
<polyline points="1967.73,1843.78 2003.15,1843.78" fill="none" stroke="#000" stroke-width="3.7" stroke-linecap="butt" stroke-linejoin="round"/>
<text xml:space="preserve" transform="translate(1666.0,1832.09) scale(0.815,1)" font-size="33.5">allen BE ist</text>
<text xml:space="preserve" transform="translate(1666.0,1865.61) scale(0.815,1)" font-size="33.5">"-C"</text>
<text xml:space="preserve" transform="translate(1666.0,1899.14) scale(0.815,1)" font-size="33.5">angehängt</text>
<text xml:space="preserve" transform="translate(1925.23,1832.09) scale(0.815,1)" font-size="33.5" text-anchor="middle">LED1</text>
<text xml:space="preserve" transform="translate(1925.23,1865.61) scale(0.815,1)" font-size="33.5" text-anchor="middle">CV</text>
<text xml:space="preserve" transform="translate(1925.23,1899.14) scale(0.815,1)" font-size="33.5" text-anchor="middle">gn</text>
<text xml:space="preserve" transform="translate(2060.99,1832.09) scale(0.815,1)" font-size="33.5" text-anchor="middle">LED2</text>
<text xml:space="preserve" transform="translate(2060.99,1865.61) scale(0.815,1)" font-size="33.5" text-anchor="middle">CC</text>
<text xml:space="preserve" transform="translate(2060.99,1899.14) scale(0.815,1)" font-size="33.5" text-anchor="middle">rt</text>
<rect x="25.81" y="1725.73" width="377.76" height="495.81" fill="none" stroke="#000" stroke-width="3.9" stroke-dasharray="6.7 4.0"/>
<text xml:space="preserve" transform="translate(37.85,1771.13) scale(0.86,1)" font-size="44">TIP</text>
<polyline points="238.3,1725.73 238.3,2056.27 214.69,2056.27" fill="none" stroke="#000" stroke-width="5.3" stroke-linecap="butt" stroke-linejoin="round"/>
<polyline points="25.81,1961.83 73.03,1961.83" fill="none" stroke="#000" stroke-width="3.7" stroke-linecap="butt" stroke-linejoin="round"/>
<polyline points="49.42,1820.17 49.42,2103.49" fill="none" stroke="#000" stroke-width="3.7" stroke-linecap="butt" stroke-linejoin="round"/>
<circle cx="49.42" cy="1961.83" r="7.08" fill="#000"/>
<polyline points="49.42,1820.17 179.27,1820.17" fill="none" stroke="#000" stroke-width="3.7" stroke-linecap="butt" stroke-linejoin="round"/>
<rect x="73.03" y="1808.37" width="70.83" height="23.61" fill="#fff" stroke="#000" stroke-width="3.7"/>
<text xml:space="preserve" transform="translate(91.45,1868.21) scale(0.815,1)" font-size="33.5">R1</text>
<polyline points="179.27,1796.56 179.27,1843.78" fill="none" stroke="#000" stroke-width="4.1" stroke-linecap="butt" stroke-linejoin="round"/>
<polyline points="179.27,1806.71 214.69,1772.95" fill="none" stroke="#000" stroke-width="3.7" stroke-linecap="butt" stroke-linejoin="round"/>
<polyline points="179.27,1818.28 214.69,1784.28 214.69,1772.95" fill="none" stroke="#000" stroke-width="3.7" stroke-linecap="butt" stroke-linejoin="round"/>
<polyline points="179.27,1831.97 214.69,1867.39" fill="none" stroke="#000" stroke-width="3.7" stroke-linecap="butt" stroke-linejoin="round"/>
<polygon points="201.0,1853.22 186.36,1848.5 195.8,1837.88" fill="#000" stroke="#000" stroke-width="1" stroke-linejoin="miter"/>
<polyline points="49.42,1961.83 179.27,1961.83" fill="none" stroke="#000" stroke-width="3.7" stroke-linecap="butt" stroke-linejoin="round"/>
<rect x="73.03" y="1950.03" width="70.83" height="23.61" fill="#fff" stroke="#000" stroke-width="3.7"/>
<text xml:space="preserve" transform="translate(91.45,2009.16) scale(0.815,1)" font-size="33.5">R2</text>
<polyline points="179.27,1938.22 179.27,1985.44" fill="none" stroke="#000" stroke-width="4.1" stroke-linecap="butt" stroke-linejoin="round"/>
<polyline points="179.27,1948.37 214.69,1914.61" fill="none" stroke="#000" stroke-width="3.7" stroke-linecap="butt" stroke-linejoin="round"/>
<polyline points="179.27,1959.94 214.69,1925.94 214.69,1914.61" fill="none" stroke="#000" stroke-width="3.7" stroke-linecap="butt" stroke-linejoin="round"/>
<polyline points="179.27,1973.63 214.69,2009.05" fill="none" stroke="#000" stroke-width="3.7" stroke-linecap="butt" stroke-linejoin="round"/>
<polygon points="201.0,1994.88 186.36,1990.16 195.8,1979.54" fill="#000" stroke="#000" stroke-width="1" stroke-linejoin="miter"/>
<polyline points="49.42,2103.49 179.27,2103.49" fill="none" stroke="#000" stroke-width="3.7" stroke-linecap="butt" stroke-linejoin="round"/>
<rect x="73.03" y="2091.68" width="70.83" height="23.61" fill="#fff" stroke="#000" stroke-width="3.7"/>
<text xml:space="preserve" transform="translate(91.45,2150.35) scale(0.815,1)" font-size="33.5">R3</text>
<polyline points="179.27,2079.88 179.27,2127.1" fill="none" stroke="#000" stroke-width="4.1" stroke-linecap="butt" stroke-linejoin="round"/>
<polyline points="179.27,2090.03 214.69,2056.27" fill="none" stroke="#000" stroke-width="3.7" stroke-linecap="butt" stroke-linejoin="round"/>
<polyline points="179.27,2101.6 214.69,2067.6 214.69,2056.27" fill="none" stroke="#000" stroke-width="3.7" stroke-linecap="butt" stroke-linejoin="round"/>
<polyline points="179.27,2115.29 214.69,2150.71" fill="none" stroke="#000" stroke-width="3.7" stroke-linecap="butt" stroke-linejoin="round"/>
<polygon points="201.0,2136.54 186.36,2131.82 195.8,2121.2" fill="#000" stroke="#000" stroke-width="1" stroke-linejoin="miter"/>
<text xml:space="preserve" transform="translate(73.03,2044.1) scale(0.815,1)" font-size="33.5">3x 370</text>
<polyline points="214.69,1772.95 238.3,1772.95" fill="none" stroke="#000" stroke-width="5.3" stroke-linecap="butt" stroke-linejoin="round"/>
<polyline points="214.69,1914.61 238.3,1914.61" fill="none" stroke="#000" stroke-width="5.3" stroke-linecap="butt" stroke-linejoin="round"/>
<circle cx="238.3" cy="1772.95" r="7.08" fill="#000"/>
<circle cx="238.3" cy="1914.61" r="7.08" fill="#000"/>
<polyline points="214.69,1867.39 356.35,1867.39 356.35,2150.71 214.69,2150.71" fill="none" stroke="#000" stroke-width="5.3" stroke-linecap="butt" stroke-linejoin="round"/>
<polyline points="214.69,2009.05 403.57,2009.05" fill="none" stroke="#000" stroke-width="5.3" stroke-linecap="butt" stroke-linejoin="round"/>
<circle cx="356.35" cy="2009.05" r="7.08" fill="#000"/>
<rect x="261.91" y="1855.59" width="70.83" height="23.61" fill="#fff" stroke="#000" stroke-width="3.7"/>
<rect x="261.91" y="1997.24" width="70.83" height="23.61" fill="#fff" stroke="#000" stroke-width="3.7"/>
<rect x="261.91" y="2138.9" width="70.83" height="23.61" fill="#fff" stroke="#000" stroke-width="3.7"/>
<text xml:space="preserve" transform="translate(197.93,1832.09) scale(0.815,1)" font-size="33.5">Q1</text>
<text xml:space="preserve" transform="translate(197.93,1973.27) scale(0.815,1)" font-size="33.5">Q2</text>
<text xml:space="preserve" transform="translate(197.93,2114.46) scale(0.815,1)" font-size="33.5">Q3</text>
<text xml:space="preserve" transform="translate(256.95,1808.0) scale(0.815,1)" font-size="33.5">3x TIP120</text>
<text xml:space="preserve" transform="translate(280.8,1843.42) scale(0.815,1)" font-size="33.5">R4</text>
<text xml:space="preserve" transform="translate(280.8,1985.79) scale(0.815,1)" font-size="33.5">R5</text>
<text xml:space="preserve" transform="translate(244.67,2091.09) scale(0.815,1)" font-size="33.5">3x 0,33</text>
<text xml:space="preserve" transform="translate(280.8,2126.03) scale(0.815,1)" font-size="33.5">R6</text>
<text xml:space="preserve" transform="translate(37.85,2208.9) scale(0.815,1)" font-size="33.5">allen BE ist "-T" angehängt</text>
<rect x="450.79" y="1725.73" width="283.32" height="212.49" fill="none" stroke="#000" stroke-width="3.9" stroke-dasharray="3.2 2.9"/>
<text xml:space="preserve" transform="translate(456.46,1783.45) scale(0.815,1)" font-size="33.5">B</text>
<polyline points="450.79,1796.56 509.81,1796.56" fill="none" stroke="#000" stroke-width="3.7" stroke-linecap="butt" stroke-linejoin="round"/>
<circle cx="486.2" cy="1796.56" r="7.08" fill="#000"/>
<polyline points="509.81,1772.95 509.81,1820.17" fill="none" stroke="#000" stroke-width="4.1" stroke-linecap="butt" stroke-linejoin="round"/>
<polyline points="509.81,1783.57 545.23,1749.34 734.11,1749.34" fill="none" stroke="#000" stroke-width="3.7" stroke-linecap="butt" stroke-linejoin="round"/>
<polyline points="509.81,1808.37 545.23,1843.78" fill="none" stroke="#000" stroke-width="3.7" stroke-linecap="butt" stroke-linejoin="round"/>
<polygon points="536.26,1834.81 519.73,1829.61 530.36,1818.52" fill="#000" stroke="#000" stroke-width="1" stroke-linejoin="miter"/>
<polyline points="663.28,1725.73 663.28,1796.56 627.87,1830.79" fill="none" stroke="#000" stroke-width="3.7" stroke-linecap="butt" stroke-linejoin="round"/>
<circle cx="663.28" cy="1725.73" r="7.08" fill="#000"/>
<circle cx="663.28" cy="1749.34" r="7.08" fill="#000"/>
<circle cx="686.89" cy="1749.34" r="7.08" fill="#000"/>
<polyline points="545.23,1843.78 627.87,1843.78" fill="none" stroke="#000" stroke-width="3.7" stroke-linecap="butt" stroke-linejoin="round"/>
<circle cx="545.23" cy="1843.78" r="7.08" fill="#000"/>
<polyline points="627.87,1820.17 627.87,1867.39" fill="none" stroke="#000" stroke-width="4.1" stroke-linecap="butt" stroke-linejoin="round"/>
<polyline points="627.87,1855.59 663.28,1891.0 663.28,1914.61" fill="none" stroke="#000" stroke-width="3.7" stroke-linecap="butt" stroke-linejoin="round"/>
<polygon points="654.31,1882.03 637.78,1876.83 648.41,1865.74" fill="#000" stroke="#000" stroke-width="1" stroke-linejoin="miter"/>
<polyline points="486.2,1796.56 486.2,1914.61 734.11,1914.61" fill="none" stroke="#000" stroke-width="3.7" stroke-linecap="butt" stroke-linejoin="round"/>
<rect x="474.4" y="1820.17" width="23.61" height="70.83" fill="#fff" stroke="#000" stroke-width="3.7"/>
<rect x="568.84" y="1902.81" width="70.83" height="23.61" fill="#fff" stroke="#000" stroke-width="3.7"/>
<polyline points="545.23,1843.78 545.23,1914.61" fill="none" stroke="#000" stroke-width="3.7" stroke-linecap="butt" stroke-linejoin="round"/>
<circle cx="545.23" cy="1914.61" r="7.08" fill="#000"/>
<circle cx="663.28" cy="1914.61" r="7.08" fill="#000"/>
<circle cx="686.89" cy="1914.61" r="7.08" fill="#000"/>
<polyline points="686.89,1749.34 686.89,1914.61" fill="none" stroke="#000" stroke-width="3.7" stroke-linecap="butt" stroke-linejoin="round"/>
<polygon points="686.89,1820.17 669.18,1855.59 704.6,1855.59" fill="none" stroke="#000" stroke-width="3.7" stroke-linejoin="miter"/>
<polyline points="669.18,1820.17 704.6,1820.17" fill="none" stroke="#000" stroke-width="3.7" stroke-linecap="butt" stroke-linejoin="round"/>
<text xml:space="preserve" transform="translate(504.38,1890.4) scale(0.815,1)" font-size="33.5">8k</text>
<text xml:space="preserve" transform="translate(563.41,1884.74) scale(0.815,1)" font-size="33.5">120</text>
<text xml:space="preserve" transform="translate(542.4,1802.81) scale(0.815,1)" font-size="33.5">TIP120</text>
<text xml:space="preserve" transform="translate(708.14,1785.34) scale(0.815,1)" font-size="33.5">C</text>
<text xml:space="preserve" transform="translate(708.14,1901.74) scale(0.815,1)" font-size="33.5">E</text>
<text xml:space="preserve" transform="translate(755.36,1754.17) scale(0.815,1)" font-size="33.5">TIP120</text>
<rect x="768.58" y="1766.1" width="59.02" height="93.73" fill="none" stroke="#000" stroke-width="3.7"/>
<polyline points="768.58,1813.32 827.61,1813.32" fill="none" stroke="#000" stroke-width="3.7" stroke-linecap="butt" stroke-linejoin="round"/>
<circle cx="797.86" cy="1789.71" r="11.57" fill="none" stroke="#000" stroke-width="3.7"/>
<polyline points="780.62,1859.83 780.62,1906.35" fill="none" stroke="#000" stroke-width="3.7" stroke-linecap="butt" stroke-linejoin="round"/>
<polyline points="798.09,1859.83 798.09,1906.35" fill="none" stroke="#000" stroke-width="3.7" stroke-linecap="butt" stroke-linejoin="round"/>
<polyline points="815.56,1859.83 815.56,1906.35" fill="none" stroke="#000" stroke-width="3.7" stroke-linecap="butt" stroke-linejoin="round"/>
<text xml:space="preserve" transform="translate(786.76,1855.93) scale(0.815,1)" font-size="33.5">xx</text>
<text xml:space="preserve" transform="translate(770.23,1937.62) scale(0.815,1)" font-size="33.5" letter-spacing="1.2">BCE</text>
<text xml:space="preserve" transform="translate(782.75,2085.19) scale(0.815,1)" font-size="33.5" text-anchor="middle">SC945</text>
<text xml:space="preserve" transform="translate(782.75,2118.95) scale(0.815,1)" font-size="33.5" text-anchor="middle">SA1015</text>
<text xml:space="preserve" transform="translate(753.94,2153.42) scale(0.815,1)" font-size="33.5" letter-spacing="4.2">ECB</text>
<path d="M753.94,2160.15 L812.26,2160.15 A30.929100000000002,30.929100000000002 0 1 1 753.94,2160.15 Z" fill="none" stroke="#000" stroke-width="3.7"/>
<polyline points="758.66,2171.01 806.36,2171.01" fill="none" stroke="#000" stroke-width="5.2" stroke-linecap="butt" stroke-linejoin="round" stroke-dasharray="12.8 4.65"/>
<text xml:space="preserve" transform="translate(580.64,1985.79) scale(0.815,1)" font-size="33.5" text-anchor="middle">VISHAY</text>
<text xml:space="preserve" transform="translate(580.64,2017.9) scale(0.815,1)" font-size="33.5" text-anchor="middle">10-Gang-Draht-Poti</text>
<text xml:space="preserve" transform="translate(580.64,2050.01) scale(0.815,1)" font-size="33.5" text-anchor="middle">5k oder 10k 5%</text>
<rect x="539.33" y="2079.88" width="106.25" height="115.69" fill="none" stroke="#000" stroke-width="3.7"/>
<rect x="561.76" y="2060.99" width="6.85" height="18.89" fill="none" stroke="#000" stroke-width="3.7"/>
<rect x="602.84" y="2060.99" width="6.85" height="18.89" fill="none" stroke="#000" stroke-width="3.7"/>
<rect x="638.49" y="2060.99" width="6.85" height="18.89" fill="none" stroke="#000" stroke-width="3.7"/>
<rect x="462.59" y="2127.81" width="37.78" height="18.89" fill="none" stroke="#000" stroke-width="3.7"/>
<polyline points="500.37,2120.02 500.37,2154.49" fill="none" stroke="#000" stroke-width="5.5" stroke-linecap="butt" stroke-linejoin="round"/>
<polyline points="500.37,2121.2 539.33,2121.2" fill="none" stroke="#000" stroke-width="3.7" stroke-linecap="butt" stroke-linejoin="round"/>
<polyline points="500.37,2153.31 539.33,2153.31" fill="none" stroke="#000" stroke-width="3.7" stroke-linecap="butt" stroke-linejoin="round"/>
<rect x="503.91" y="2103.49" width="8.97" height="63.98" fill="none" stroke="#000" stroke-width="3.7"/>
<rect x="517.84" y="2103.49" width="8.74" height="63.98" fill="none" stroke="#000" stroke-width="3.7"/>
<text xml:space="preserve" transform="translate(557.51,2103.84) scale(0.815,1)" font-size="33.5">e</text>
<text xml:space="preserve" transform="translate(598.59,2103.84) scale(0.815,1)" font-size="33.5">a</text>
<text xml:space="preserve" transform="translate(628.1,2103.84) scale(0.815,1)" font-size="33.5">s</text>
<text xml:space="preserve" transform="translate(557.04,2133.35) scale(0.815,1)" font-size="33.5">3</text>
<text xml:space="preserve" transform="translate(599.06,2133.35) scale(0.815,1)" font-size="33.5">1</text>
<text xml:space="preserve" transform="translate(628.1,2133.35) scale(0.815,1)" font-size="33.5">2</text>
<rect x="875.77" y="1725.73" width="472.2" height="472.2" fill="none" stroke="#000" stroke-width="3.9" stroke-dasharray="6.7 4.0"/>
<text xml:space="preserve" transform="translate(1228.5,1771.13) scale(0.86,1)" font-size="44">UREF</text>
<text xml:space="preserve" transform="translate(938.81,1760.78) scale(0.815,1)" font-size="33.5">+9V</text>
<polyline points="993.82,1725.73 993.82,2009.05" fill="none" stroke="#000" stroke-width="3.7" stroke-linecap="butt" stroke-linejoin="round"/>
<rect x="982.01" y="1796.56" width="23.61" height="70.83" fill="#fff" stroke="#000" stroke-width="3.7"/>
<circle cx="993.82" cy="1891.0" r="7.08" fill="#000"/>
<text xml:space="preserve" transform="translate(1017.43,1819.57) scale(0.815,1)" font-size="33.5">R1</text>
<text xml:space="preserve" transform="translate(1017.43,1853.57) scale(0.815,1)" font-size="33.5">6,5k</text>
<polyline points="993.82,1891.0 1333.8,1891.0" fill="none" stroke="#000" stroke-width="3.7" stroke-linecap="butt" stroke-linejoin="round"/>
<circle cx="1088.26" cy="1891.0" r="7.08" fill="#000"/>
<polyline points="1153.42,1885.33 1164.76,1896.67" fill="none" stroke="#000" stroke-width="3.5" stroke-linecap="butt" stroke-linejoin="round"/>
<polyline points="1153.42,1896.67 1164.76,1885.33" fill="none" stroke="#000" stroke-width="3.5" stroke-linecap="butt" stroke-linejoin="round"/>
<circle cx="1206.31" cy="1891.0" r="7.08" fill="#000"/>
<circle cx="1277.14" cy="1891.0" r="7.08" fill="#000"/>
<polygon points="1336.16,1891.0 1318.46,1885.1 1318.46,1896.9" fill="none" stroke="#000" stroke-width="3.7" stroke-linejoin="round"/>
<polyline points="1318.46,1891.0 1336.16,1891.0" fill="none" stroke="#000" stroke-width="3.7" stroke-linecap="butt" stroke-linejoin="round"/>
<text xml:space="preserve" transform="translate(1134.3,1843.66) scale(0.815,1)" font-size="33.5">Uref</text>
<text xml:space="preserve" transform="translate(1115.65,1876.95) scale(0.815,1)" font-size="33.5">2,490V</text>
<text xml:space="preserve" transform="translate(1289.42,1878.83) scale(0.815,1)" font-size="33.5">Uref</text>
<polygon points="993.82,1950.03 976.11,1985.44 1011.53,1985.44" fill="none" stroke="#000" stroke-width="3.7" stroke-linejoin="miter"/>
<polyline points="977.29,1945.3 981.54,1950.03 1006.1,1950.03 1010.35,1954.75" fill="none" stroke="#000" stroke-width="3.7" stroke-linecap="butt" stroke-linejoin="miter"/>
<polyline points="976.11,2009.05 1011.53,2009.05" fill="none" stroke="#000" stroke-width="3.7" stroke-linecap="butt" stroke-linejoin="round"/>
<polyline points="1088.26,1891.0 1088.26,2127.1" fill="none" stroke="#000" stroke-width="3.7" stroke-linecap="butt" stroke-linejoin="round"/>
<polygon points="1088.26,1950.03 1070.55,1914.61 1105.97,1914.61" fill="none" stroke="#000" stroke-width="3.7" stroke-linejoin="miter"/>
<polyline points="1070.55,1950.03 1105.97,1950.03" fill="none" stroke="#000" stroke-width="3.7" stroke-linecap="butt" stroke-linejoin="round"/>
<rect x="1076.45" y="1973.63" width="23.61" height="70.83" fill="#fff" stroke="#000" stroke-width="3.7"/>
<polygon points="1088.26,2103.49 1070.55,2068.07 1105.97,2068.07" fill="none" stroke="#000" stroke-width="3.7" stroke-linejoin="miter"/>
<polyline points="1070.55,2103.49 1105.97,2103.49" fill="none" stroke="#000" stroke-width="3.7" stroke-linecap="butt" stroke-linejoin="round"/>
<polyline points="1070.55,2127.1 1105.97,2127.1" fill="none" stroke="#000" stroke-width="3.7" stroke-linecap="butt" stroke-linejoin="round"/>
<polyline points="1004.44,1972.22 1052.85,1972.22 1116.59,2036.44" fill="none" stroke="#000" stroke-width="3.7" stroke-linecap="butt" stroke-linejoin="round"/>
<polyline points="1110.58,2042.45 1122.6,2030.43" fill="none" stroke="#000" stroke-width="3.7" stroke-linecap="butt" stroke-linejoin="round"/>
<text xml:space="preserve" transform="translate(1113.05,1944.23) scale(0.815,1)" font-size="33.5">D1</text>
<text xml:space="preserve" transform="translate(1106.44,1985.79) scale(0.815,1)" font-size="33.5">VR1</text>
<text xml:space="preserve" transform="translate(1114.94,2019.08) scale(0.815,1)" font-size="33.5">22k</text>
<text xml:space="preserve" transform="translate(1113.05,2092.27) scale(0.815,1)" font-size="33.5">D2</text>
<polyline points="1206.31,1891.0 1206.31,1950.03" fill="none" stroke="#000" stroke-width="3.7" stroke-linecap="butt" stroke-linejoin="round"/>
<polyline points="1182.7,1950.03 1229.92,1950.03" fill="none" stroke="#000" stroke-width="3.7" stroke-linecap="butt" stroke-linejoin="round"/>
<polyline points="1182.7,1961.83 1229.92,1961.83" fill="none" stroke="#000" stroke-width="3.7" stroke-linecap="butt" stroke-linejoin="round"/>
<polyline points="1206.31,1961.83 1206.31,2009.05" fill="none" stroke="#000" stroke-width="3.7" stroke-linecap="butt" stroke-linejoin="round"/>
<polyline points="1188.6,2009.05 1224.02,2009.05" fill="none" stroke="#000" stroke-width="3.7" stroke-linecap="butt" stroke-linejoin="round"/>
<polyline points="1211.98,1934.68 1228.98,1934.68" fill="none" stroke="#000" stroke-width="4" stroke-linecap="butt" stroke-linejoin="round"/>
<polyline points="1220.48,1926.18 1220.48,1943.18" fill="none" stroke="#000" stroke-width="4" stroke-linecap="butt" stroke-linejoin="round"/>
<polyline points="1277.14,1891.0 1277.14,1950.03" fill="none" stroke="#000" stroke-width="3.7" stroke-linecap="butt" stroke-linejoin="round"/>
<polyline points="1253.53,1950.03 1300.75,1950.03" fill="none" stroke="#000" stroke-width="3.7" stroke-linecap="butt" stroke-linejoin="round"/>
<polyline points="1253.53,1961.83 1300.75,1961.83" fill="none" stroke="#000" stroke-width="3.7" stroke-linecap="butt" stroke-linejoin="round"/>
<polyline points="1277.14,1961.83 1277.14,2009.05" fill="none" stroke="#000" stroke-width="3.7" stroke-linecap="butt" stroke-linejoin="round"/>
<polyline points="1259.43,2009.05 1294.85,2009.05" fill="none" stroke="#000" stroke-width="3.7" stroke-linecap="butt" stroke-linejoin="round"/>
<text xml:space="preserve" transform="translate(1189.78,2044.34) scale(0.815,1)" font-size="33.5">C1</text>
<text xml:space="preserve" transform="translate(1179.16,2078.1) scale(0.815,1)" font-size="33.5">4,7µ</text>
<text xml:space="preserve" transform="translate(1182.94,2111.63) scale(0.815,1)" font-size="33.5">16V</text>
<text xml:space="preserve" transform="translate(1260.14,2044.34) scale(0.815,1)" font-size="33.5">C2</text>
<text xml:space="preserve" transform="translate(1247.39,2078.1) scale(0.815,1)" font-size="33.5">100n</text>
<text xml:space="preserve" transform="translate(999.25,2044.34) scale(0.815,1)" font-size="33.5" text-anchor="middle">IC1</text>
<text xml:space="preserve" transform="translate(999.25,2078.1) scale(0.815,1)" font-size="33.5" text-anchor="middle">LM336</text>
<text xml:space="preserve" transform="translate(999.25,2111.63) scale(0.815,1)" font-size="33.5" text-anchor="middle">-2.5</text>
<text xml:space="preserve" transform="translate(898.67,2180.57) scale(0.815,1)" font-size="33.5">allen BE ist "-REF" angehängt</text>
<rect x="917.09" y="2227.44" width="218.39" height="70.83" fill="#fff" stroke="#000" stroke-width="3.7"/>
<rect x="928.89" y="2220.83" width="17.71" height="6.61" fill="#fff" stroke="#000" stroke-width="3.2"/>
<rect x="928.89" y="2298.27" width="17.71" height="6.61" fill="#fff" stroke="#000" stroke-width="3.2"/>
<rect x="958.4" y="2220.83" width="17.71" height="6.61" fill="#fff" stroke="#000" stroke-width="3.2"/>
<rect x="958.4" y="2298.27" width="17.71" height="6.61" fill="#fff" stroke="#000" stroke-width="3.2"/>
<rect x="987.92" y="2220.83" width="17.71" height="6.61" fill="#fff" stroke="#000" stroke-width="3.2"/>
<rect x="987.92" y="2298.27" width="17.71" height="6.61" fill="#fff" stroke="#000" stroke-width="3.2"/>
<rect x="1017.43" y="2220.83" width="17.71" height="6.61" fill="#fff" stroke="#000" stroke-width="3.2"/>
<rect x="1017.43" y="2298.27" width="17.71" height="6.61" fill="#fff" stroke="#000" stroke-width="3.2"/>
<rect x="1046.94" y="2220.83" width="17.71" height="6.61" fill="#fff" stroke="#000" stroke-width="3.2"/>
<rect x="1046.94" y="2298.27" width="17.71" height="6.61" fill="#fff" stroke="#000" stroke-width="3.2"/>
<rect x="1076.45" y="2220.83" width="17.71" height="6.61" fill="#fff" stroke="#000" stroke-width="3.2"/>
<rect x="1076.45" y="2298.27" width="17.71" height="6.61" fill="#fff" stroke="#000" stroke-width="3.2"/>
<rect x="1105.97" y="2220.83" width="17.71" height="6.61" fill="#fff" stroke="#000" stroke-width="3.2"/>
<rect x="1105.97" y="2298.27" width="17.71" height="6.61" fill="#fff" stroke="#000" stroke-width="3.2"/>
<rect x="917.09" y="2256.48" width="6.61" height="12.75" fill="#fff" stroke="#000" stroke-width="3.0"/>
<text xml:space="preserve" transform="translate(926.06,2258.25) scale(0.815,1)" font-size="32">14</text>
<text xml:space="preserve" transform="translate(928.42,2293.43) scale(0.815,1)" font-size="32">1</text>
<text xml:space="preserve" transform="translate(1110.93,2258.25) scale(0.815,1)" font-size="32">8</text>
<text xml:space="preserve" transform="translate(1110.93,2293.43) scale(0.815,1)" font-size="32">7</text>
<text xml:space="preserve" transform="translate(988.86,2275.01) scale(0.815,1)" font-size="33.5">LM324</text>
<rect x="1371.58" y="1725.73" width="259.71" height="566.64" fill="none" stroke="#000" stroke-width="3.9" stroke-dasharray="6.7 4.0"/>
<text xml:space="preserve" transform="translate(1472.39,1771.13) scale(0.86,1)" font-size="44">OFFSET</text>
<polyline points="1442.41,1803.64 1442.41,1772.95 1395.19,1772.95 1395.19,2197.93 1442.41,2197.93 1442.41,1883.92" fill="none" stroke="#000" stroke-width="3.7" stroke-linecap="butt" stroke-linejoin="round"/>
<rect x="1424.7" y="1808.37" width="129.85" height="70.83" fill="#fff" stroke="#000" stroke-width="3.7"/>
<rect x="1435.92" y="1801.75" width="18.89" height="6.61" fill="#fff" stroke="#000" stroke-width="3.2"/>
<rect x="1435.92" y="1879.19" width="18.89" height="6.61" fill="#fff" stroke="#000" stroke-width="3.2"/>
<rect x="1465.43" y="1801.75" width="18.89" height="6.61" fill="#fff" stroke="#000" stroke-width="3.2"/>
<rect x="1465.43" y="1879.19" width="18.89" height="6.61" fill="#fff" stroke="#000" stroke-width="3.2"/>
<rect x="1494.94" y="1801.75" width="18.89" height="6.61" fill="#fff" stroke="#000" stroke-width="3.2"/>
<rect x="1494.94" y="1879.19" width="18.89" height="6.61" fill="#fff" stroke="#000" stroke-width="3.2"/>
<rect x="1524.45" y="1801.75" width="18.89" height="6.61" fill="#fff" stroke="#000" stroke-width="3.2"/>
<rect x="1524.45" y="1879.19" width="18.89" height="6.61" fill="#fff" stroke="#000" stroke-width="3.2"/>
<rect x="1424.7" y="1837.41" width="6.61" height="12.75" fill="#fff" stroke="#000" stroke-width="3.0"/>
<text xml:space="preserve" transform="translate(1436.04,1837.75) scale(0.815,1)" font-size="33.5">8</text>
<text xml:space="preserve" transform="translate(1436.04,1874.11) scale(0.815,1)" font-size="33.5">1</text>
<text xml:space="preserve" transform="translate(1527.41,1837.75) scale(0.815,1)" font-size="33.5">5</text>
<text xml:space="preserve" transform="translate(1527.41,1874.11) scale(0.815,1)" font-size="33.5">4</text>
<text xml:space="preserve" transform="translate(1455.63,1854.75) scale(0.815,1)" font-size="33.5">OP07</text>
<rect x="1430.61" y="1914.61" width="23.61" height="70.83" fill="#fff" stroke="#000" stroke-width="3.7"/>
<rect x="1430.61" y="2009.05" width="23.61" height="70.83" fill="#fff" stroke="#000" stroke-width="3.7"/>
<rect x="1430.61" y="2103.49" width="23.61" height="70.83" fill="#fff" stroke="#000" stroke-width="3.7"/>
<polyline points="1560.46,2009.05 1477.83,2009.05 1413.37,2073.51" fill="none" stroke="#000" stroke-width="3.7" stroke-linecap="butt" stroke-linejoin="round"/>
<polyline points="1407.36,2067.5 1419.38,2079.52" fill="none" stroke="#000" stroke-width="3.7" stroke-linecap="butt" stroke-linejoin="round"/>
<text xml:space="preserve" transform="translate(1566.6,2020.97) scale(0.815,1)" font-size="33.5">+9V</text>
<text xml:space="preserve" transform="translate(1472.39,2051.19) scale(0.815,1)" font-size="33.5">VR1*</text>
<text xml:space="preserve" transform="translate(1472.39,2084.0) scale(0.815,1)" font-size="33.5">2,2k</text>
<text xml:space="preserve" transform="translate(1466.49,1920.86) scale(0.815,1)" font-size="33.5">R1</text>
<text xml:space="preserve" transform="translate(1466.49,1954.39) scale(0.815,1)" font-size="33.5">9,1k</text>
<text xml:space="preserve" transform="translate(1466.49,1987.91) scale(0.815,1)" font-size="33.5">(10k)</text>
<text xml:space="preserve" transform="translate(1466.49,2126.74) scale(0.815,1)" font-size="33.5">R2</text>
<text xml:space="preserve" transform="translate(1466.49,2160.5) scale(0.815,1)" font-size="33.5">9,1k</text>
<text xml:space="preserve" transform="translate(1466.49,2194.26) scale(0.815,1)" font-size="33.5">(10k)</text>
<text xml:space="preserve" transform="translate(1383.38,2244.79) scale(0.815,1)" font-size="33.5">Offset-Abgleich-BE</text>
<text xml:space="preserve" transform="translate(1383.38,2278.79) scale(0.815,1)" font-size="33.5">nur bei Bedarf</text>
<text xml:space="preserve" transform="translate(1849.68,1955.57) scale(0.815,1)" font-size="33.5">Stromquellen SQx</text>
<rect x="1855.59" y="1973.63" width="271.51" height="94.44" fill="none" stroke="#000" stroke-width="3.7"/>
<text xml:space="preserve" transform="translate(1867.63,2032.54) scale(0.815,1)" font-size="33.5">Icqx =</text>
<polyline points="1943.65,2018.97 2113.64,2018.97" fill="none" stroke="#000" stroke-width="3.7" stroke-linecap="butt" stroke-linejoin="round"/>
<text xml:space="preserve" transform="translate(2005.04,2007.98) scale(0.815,1)" font-size="33.5" text-anchor="middle">Uref</text>
<text xml:space="preserve" transform="translate(1950.26,2055.91) scale(0.815,1)" font-size="33.5">VR1qx + R1qx</text>
<text xml:space="preserve" transform="translate(1825.6,2115.17) scale(0.815,1)" font-size="33.5" text-anchor="middle">490.2159 (DDR)</text>
<text xml:space="preserve" transform="translate(1825.6,2146.34) scale(0.815,1)" font-size="33.5" text-anchor="middle">10-Gang-Draht-Poti</text>
<text xml:space="preserve" transform="translate(1825.6,2177.5) scale(0.815,1)" font-size="33.5" text-anchor="middle">470 Ohm 2%</text>
<rect x="1783.81" y="2217.76" width="138.59" height="68.71" fill="none" stroke="#000" stroke-width="3.7"/>
<rect x="1811.2" y="2196.99" width="6.85" height="20.78" fill="none" stroke="#000" stroke-width="3.7"/>
<rect x="1887.93" y="2196.99" width="6.37" height="20.78" fill="none" stroke="#000" stroke-width="3.7"/>
<rect x="1922.4" y="2248.69" width="20.78" height="9.92" fill="none" stroke="#000" stroke-width="3.7"/>
<rect x="1707.08" y="2243.97" width="37.78" height="20.07" fill="none" stroke="#000" stroke-width="3.7"/>
<polyline points="1746.27,2235.0 1746.27,2272.54" fill="none" stroke="#000" stroke-width="5.5" stroke-linecap="butt" stroke-linejoin="round"/>
<polyline points="1746.27,2236.65 1783.81,2236.65" fill="none" stroke="#000" stroke-width="3.7" stroke-linecap="butt" stroke-linejoin="round"/>
<polyline points="1746.27,2270.65 1783.81,2270.65" fill="none" stroke="#000" stroke-width="3.7" stroke-linecap="butt" stroke-linejoin="round"/>
<rect x="1748.63" y="2216.11" width="8.74" height="71.54" fill="none" stroke="#000" stroke-width="3.7"/>
<rect x="1762.8" y="2216.11" width="8.26" height="71.54" fill="none" stroke="#000" stroke-width="3.7"/>
<text xml:space="preserve" transform="translate(1808.37,2244.79) scale(0.815,1)" font-size="33.5">a</text>
<text xml:space="preserve" transform="translate(1885.1,2244.79) scale(0.815,1)" font-size="33.5">e</text>
<text xml:space="preserve" transform="translate(1903.28,2273.83) scale(0.815,1)" font-size="33.5">s</text>
<text xml:space="preserve" transform="translate(2128.04,2162.86) scale(0.815,1)" font-size="33.5" text-anchor="end">LM336-2.5</text>
<polyline points="2043.76,2179.75 2061.7,2179.75" fill="none" stroke="#000" stroke-width="4.3" stroke-linecap="butt" stroke-linejoin="round"/>
<polyline points="2052.73,2170.78 2052.73,2188.72" fill="none" stroke="#000" stroke-width="4.3" stroke-linecap="butt" stroke-linejoin="round"/>
<polyline points="2067.84,2179.75 2085.31,2179.75" fill="none" stroke="#000" stroke-width="4.3" stroke-linecap="butt" stroke-linejoin="round"/>
<path d="M2027.73,2194.62 L2084.11,2194.62 A30.2208,30.2208 0 1 1 2027.73,2194.62 Z" fill="none" stroke="#000" stroke-width="3.7"/>
<polyline points="2032.42,2206.19 2043.76,2206.19" fill="none" stroke="#000" stroke-width="5.2" stroke-linecap="butt" stroke-linejoin="round"/>
<polyline points="2050.13,2206.19 2061.46,2206.19" fill="none" stroke="#000" stroke-width="5.2" stroke-linecap="butt" stroke-linejoin="round"/>
<polyline points="2068.07,2206.19 2079.17,2206.19" fill="none" stroke="#000" stroke-width="5.2" stroke-linecap="butt" stroke-linejoin="round"/>
<polyline points="2037.85,2208.55 2022.04,2231.22 2022.04,2289.77 2063.12,2289.77 2063.12,2267.11" fill="none" stroke="#000" stroke-width="3.7" stroke-linecap="butt" stroke-linejoin="round"/>
<polyline points="2054.62,2208.55 2032.19,2241.37 2032.19,2259.32 2091.21,2259.32 2091.21,2241.37 2073.74,2208.55" fill="none" stroke="#000" stroke-width="3.7" stroke-linecap="butt" stroke-linejoin="round"/>
<polygon points="2044.46,2259.32 2079.41,2241.37 2079.41,2277.26" fill="none" stroke="#000" stroke-width="3.7" stroke-linejoin="miter"/>
<polyline points="2049.9,2241.61 2044.46,2247.51 2044.46,2270.65 2038.56,2276.79" fill="none" stroke="#000" stroke-width="3.7" stroke-linecap="butt" stroke-linejoin="round"/>
<rect x="2.2" y="2.2" width="2148.51" height="2313.78" fill="none" stroke="#000" stroke-width="3.6"/>
<polyline points="2.2,2268.76 899.38,2268.76 899.38,2315.98" fill="none" stroke="#000" stroke-width="3.7" stroke-linecap="butt" stroke-linejoin="round"/>
<text xml:space="preserve" transform="translate(15.66,2305.23) scale(0.815,1)" font-size="33.5">UI-Regel-Netzteil 30V/2A, UI-Regler A, Vers. OP07/LM324/LM336 (2)</text>
<circle cx="120.25" cy="96.64" r="8.5" fill="#fff" stroke="#000" stroke-width="3.7"/>
<circle cx="120.25" cy="167.47" r="8.5" fill="#fff" stroke="#000" stroke-width="3.7"/>
<circle cx="120.25" cy="238.3" r="8.5" fill="#fff" stroke="#000" stroke-width="3.7"/>
<circle cx="120.25" cy="309.13" r="8.5" fill="#fff" stroke="#000" stroke-width="3.7"/>
<circle cx="120.25" cy="403.57" r="8.5" fill="#fff" stroke="#000" stroke-width="3.7"/>
<circle cx="120.25" cy="474.4" r="8.5" fill="#fff" stroke="#000" stroke-width="3.7"/>
<circle cx="120.25" cy="309.13" r="8.5" fill="#fff" stroke="#000" stroke-width="3.7"/>
<circle cx="120.25" cy="403.57" r="8.5" fill="#fff" stroke="#000" stroke-width="3.7"/>
<circle cx="120.25" cy="474.4" r="8.5" fill="#fff" stroke="#000" stroke-width="3.7"/>
<circle cx="1111.87" cy="356.35" r="5.55" fill="#fff" stroke="#000" stroke-width="3.4"/>
<circle cx="1135.48" cy="356.35" r="5.55" fill="#fff" stroke="#000" stroke-width="3.4"/>
<circle cx="1111.87" cy="852.16" r="5.55" fill="#fff" stroke="#000" stroke-width="3.4"/>
<circle cx="1135.48" cy="852.16" r="5.55" fill="#fff" stroke="#000" stroke-width="3.4"/>
<circle cx="1418.8" cy="238.3" r="8.5" fill="#fff" stroke="#000" stroke-width="3.7"/>
<circle cx="1418.8" cy="356.35" r="8.5" fill="#fff" stroke="#000" stroke-width="3.7"/>
<circle cx="1418.8" cy="474.4" r="8.5" fill="#fff" stroke="#000" stroke-width="3.7"/>
<circle cx="1418.8" cy="521.62" r="8.5" fill="#fff" stroke="#000" stroke-width="3.7"/>
<circle cx="1418.8" cy="568.84" r="8.5" fill="#fff" stroke="#000" stroke-width="3.7"/>
<circle cx="1418.8" cy="616.06" r="8.5" fill="#fff" stroke="#000" stroke-width="3.7"/>
<circle cx="1536.85" cy="261.91" r="8.5" fill="#fff" stroke="#000" stroke-width="3.7"/>
<circle cx="1466.02" cy="356.35" r="8.5" fill="#fff" stroke="#000" stroke-width="3.7"/>
<circle cx="1584.07" cy="403.57" r="5.55" fill="#fff" stroke="#000" stroke-width="3.4"/>
<circle cx="1631.29" cy="403.57" r="8.5" fill="#fff" stroke="#000" stroke-width="3.7"/>
<circle cx="1772.95" cy="403.57" r="8.5" fill="#fff" stroke="#000" stroke-width="3.7"/>
<circle cx="1772.95" cy="238.3" r="8.5" fill="#fff" stroke="#000" stroke-width="3.7"/>
<circle cx="1891.0" cy="403.57" r="5.55" fill="#fff" stroke="#000" stroke-width="3.4"/>
<circle cx="1938.22" cy="379.96" r="5.55" fill="#fff" stroke="#000" stroke-width="3.4"/>
<circle cx="1938.22" cy="403.57" r="5.55" fill="#fff" stroke="#000" stroke-width="3.4"/>
<circle cx="1997.24" cy="403.57" r="8.5" fill="#fff" stroke="#000" stroke-width="3.7"/>
<circle cx="1772.95" cy="639.67" r="8.5" fill="#fff" stroke="#000" stroke-width="3.7"/>
<circle cx="1891.0" cy="639.67" r="5.55" fill="#fff" stroke="#000" stroke-width="3.4"/>
<circle cx="1938.22" cy="616.06" r="5.55" fill="#fff" stroke="#000" stroke-width="3.4"/>
<circle cx="1938.22" cy="639.67" r="5.55" fill="#fff" stroke="#000" stroke-width="3.4"/>
<circle cx="120.25" cy="710.5" r="8.5" fill="#fff" stroke="#000" stroke-width="3.7"/>
<circle cx="120.25" cy="804.94" r="8.5" fill="#fff" stroke="#000" stroke-width="3.7"/>
<circle cx="120.25" cy="875.77" r="8.5" fill="#fff" stroke="#000" stroke-width="3.7"/>
<circle cx="1961.83" cy="899.38" r="5.55" fill="#fff" stroke="#000" stroke-width="3.4"/>
<circle cx="2009.05" cy="922.99" r="5.55" fill="#fff" stroke="#000" stroke-width="3.4"/>
<circle cx="1961.83" cy="946.6" r="5.55" fill="#fff" stroke="#000" stroke-width="3.4"/>
<circle cx="1961.83" cy="993.82" r="5.55" fill="#fff" stroke="#000" stroke-width="3.4"/>
<circle cx="2009.05" cy="1017.43" r="5.55" fill="#fff" stroke="#000" stroke-width="3.4"/>
<circle cx="1961.83" cy="1041.04" r="5.55" fill="#fff" stroke="#000" stroke-width="3.4"/>
<circle cx="1985.44" cy="1702.12" r="8.5" fill="#fff" stroke="#000" stroke-width="3.7"/>
<circle cx="2056.27" cy="1702.12" r="8.5" fill="#fff" stroke="#000" stroke-width="3.7"/>
<circle cx="1985.44" cy="1820.17" r="8.5" fill="#fff" stroke="#000" stroke-width="3.7"/>
<circle cx="238.3" cy="1725.73" r="8.5" fill="#fff" stroke="#000" stroke-width="3.7"/>
<circle cx="25.81" cy="1961.83" r="8.5" fill="#fff" stroke="#000" stroke-width="3.7"/>
<circle cx="403.57" cy="2009.05" r="8.5" fill="#fff" stroke="#000" stroke-width="3.7"/>
<circle cx="450.79" cy="1796.56" r="5.55" fill="#fff" stroke="#000" stroke-width="3.4"/>
<circle cx="734.11" cy="1749.34" r="5.55" fill="#fff" stroke="#000" stroke-width="3.4"/>
<circle cx="734.11" cy="1914.61" r="5.55" fill="#fff" stroke="#000" stroke-width="3.4"/>
</g>
</svg>
</body></html>
